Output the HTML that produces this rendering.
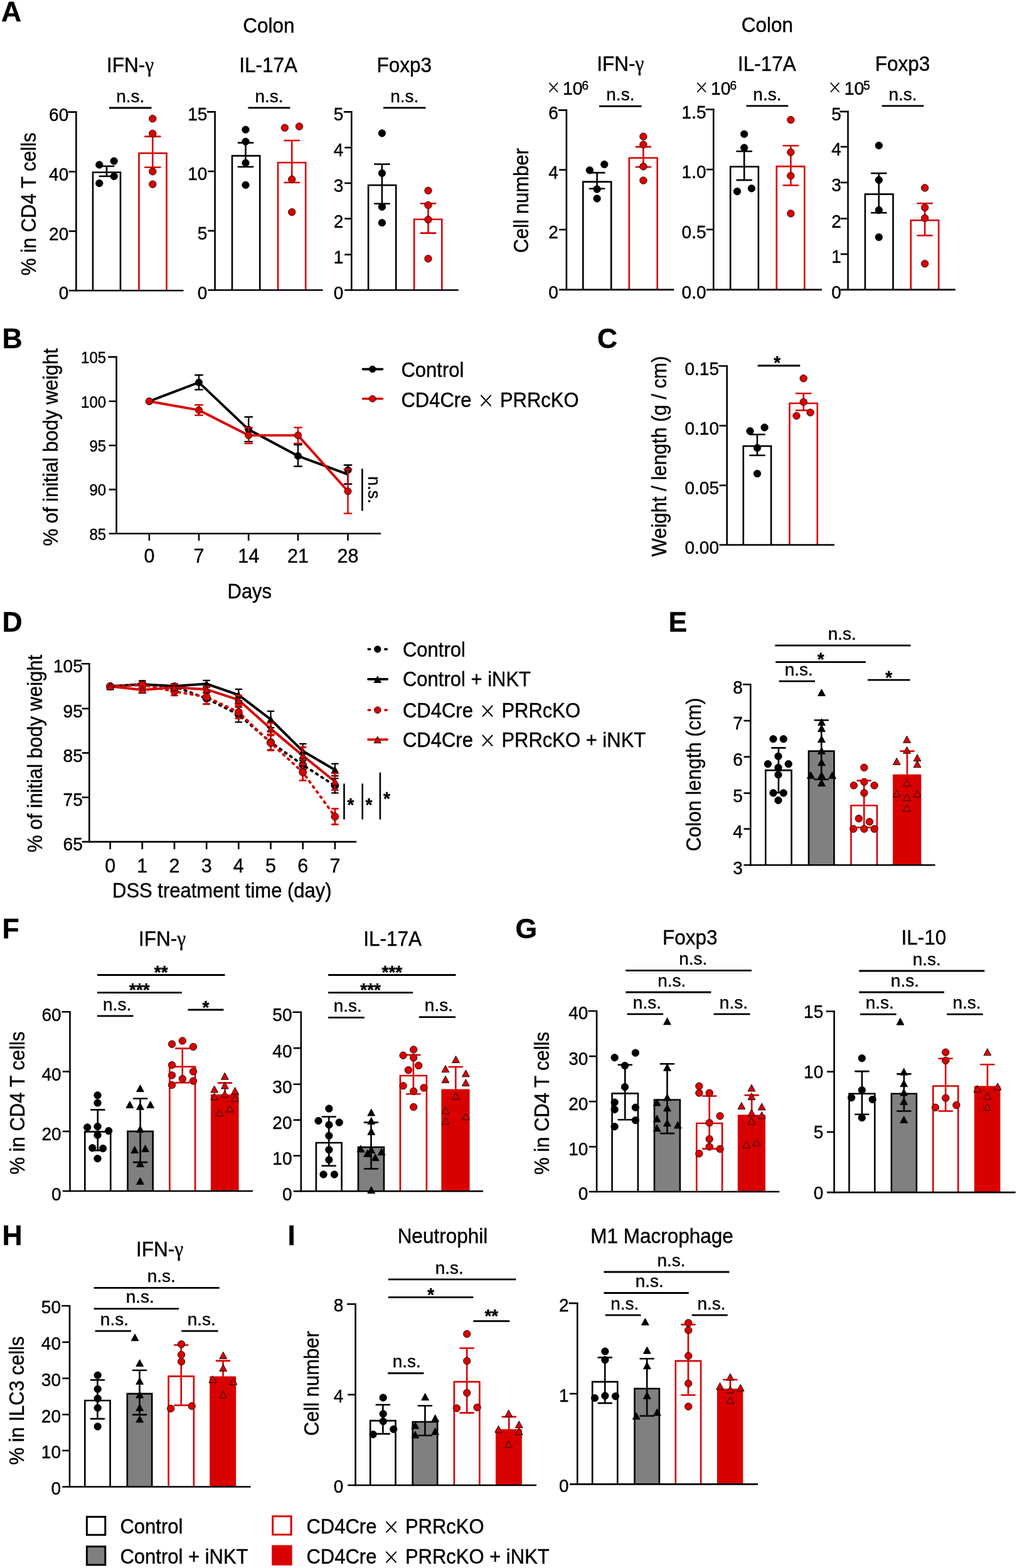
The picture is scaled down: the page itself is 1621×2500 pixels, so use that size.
<!DOCTYPE html><html><head><meta charset="utf-8"><style>html,body{margin:0;padding:0;background:#fff;width:1621px;height:2500px;overflow:hidden}svg{display:block}text{font-family:'Liberation Sans', Arial, sans-serif;fill:#000;stroke:#000;stroke-width:0.4px}</style></head><body>
<svg width="1621" height="2500" viewBox="0 0 1621 2500">
<rect width="1621" height="2500" fill="#fff"/>
<text font-size="44.5" text-anchor="start" font-weight="bold" transform="translate(2,34) scale(1,1.0)">A</text>
<text font-size="31.5" text-anchor="middle" transform="translate(428.5,51.5) scale(1,1.05)">Colon</text>
<text font-size="31.5" text-anchor="middle" transform="translate(1222.8,51) scale(1,1.05)">Colon</text>
<path d="M109.7,178.6H121.4V463.3" fill="none" stroke="#000" stroke-width="2.6" stroke-linejoin="miter" stroke-linecap="square"/>
<line x1="109.7" y1="273.7" x2="121.4" y2="273.7" stroke="#000" stroke-width="2.6"/>
<line x1="109.7" y1="368.6" x2="121.4" y2="368.6" stroke="#000" stroke-width="2.6"/>
<text font-size="28" text-anchor="end" transform="translate(109.2,192.6) scale(1,1.05)">60</text>
<text font-size="28" text-anchor="end" transform="translate(109.2,287.7) scale(1,1.05)">40</text>
<text font-size="28" text-anchor="end" transform="translate(109.2,382.6) scale(1,1.05)">20</text>
<text font-size="28" text-anchor="end" transform="translate(109.2,477.3) scale(1,1.05)">0</text>
<path d="M148,463.3V274.7H192V463.3" fill="#fff" stroke="#000" stroke-width="2.6"/>
<path d="M221.5,463.3V244.2H265.5V463.3" fill="#fff" stroke="#d90000" stroke-width="2.6"/>
<path d="M170,265V281M158.7,265H181.3M158.7,281H181.3" stroke="#000" stroke-width="2.6" fill="none" stroke-linecap="round"/>
<path d="M243.3,217.6V266.7M231.2,217.6H255.4M231.2,266.7H255.4" stroke="#d90000" stroke-width="2.6" fill="none" stroke-linecap="round"/>
<circle cx="158.3" cy="262.7" r="5.75" fill="#000" stroke="#000" stroke-width="0.8"/>
<circle cx="181.7" cy="256.8" r="5.75" fill="#000" stroke="#000" stroke-width="0.8"/>
<circle cx="181.7" cy="281" r="5.75" fill="#000" stroke="#000" stroke-width="0.8"/>
<circle cx="158.3" cy="292.2" r="5.75" fill="#000" stroke="#000" stroke-width="0.8"/>
<circle cx="243.3" cy="189.2" r="5.75" fill="#d90000" stroke="#000" stroke-width="0.8"/>
<circle cx="243.3" cy="212.9" r="5.75" fill="#d90000" stroke="#000" stroke-width="0.8"/>
<circle cx="243.3" cy="273.4" r="5.75" fill="#d90000" stroke="#000" stroke-width="0.8"/>
<circle cx="243.3" cy="293.8" r="5.75" fill="#d90000" stroke="#000" stroke-width="0.8"/>
<line x1="173.9" y1="172" x2="241.5" y2="172" stroke="#000" stroke-width="2.8"/>
<text font-size="28" text-anchor="middle" transform="translate(207.7,162.8) scale(1,1.0)">n.s.</text>
<text font-size="31.5" text-anchor="middle" transform="translate(207.5,115) scale(1,1.05)">IFN-<tspan font-family="Liberation Serif">γ</tspan></text>
<text font-size="31" text-anchor="middle" transform="translate(57,325.3) rotate(-90) scale(1,1.05)">% in CD4 T cells</text>
<path d="M331.3,178.4H342.6V462.5" fill="none" stroke="#000" stroke-width="2.6" stroke-linejoin="miter" stroke-linecap="square"/>
<line x1="331.3" y1="273.2" x2="342.6" y2="273.2" stroke="#000" stroke-width="2.6"/>
<line x1="331.3" y1="368" x2="342.6" y2="368" stroke="#000" stroke-width="2.6"/>
<text font-size="28" text-anchor="end" transform="translate(330.4,192.4) scale(1,1.05)">15</text>
<text font-size="28" text-anchor="end" transform="translate(330.4,287.2) scale(1,1.05)">10</text>
<text font-size="28" text-anchor="end" transform="translate(330.4,382) scale(1,1.05)">5</text>
<text font-size="28" text-anchor="end" transform="translate(330.4,476.5) scale(1,1.05)">0</text>
<path d="M370,462.5V248.4H414.2V462.5" fill="#fff" stroke="#000" stroke-width="2.6"/>
<path d="M443,462.5V259.2H487.2V462.5" fill="#fff" stroke="#d90000" stroke-width="2.6"/>
<path d="M391.5,227.6V266M379.8,227.6H403.2M379.8,266H403.2" stroke="#000" stroke-width="2.6" fill="none" stroke-linecap="round"/>
<path d="M465.2,224V291M453.5,224H476.9M453.5,291H476.9" stroke="#d90000" stroke-width="2.6" fill="none" stroke-linecap="round"/>
<circle cx="391.5" cy="206.7" r="5.75" fill="#000" stroke="#000" stroke-width="0.8"/>
<circle cx="391.5" cy="225.8" r="5.75" fill="#000" stroke="#000" stroke-width="0.8"/>
<circle cx="391.5" cy="259.8" r="5.75" fill="#000" stroke="#000" stroke-width="0.8"/>
<circle cx="391.5" cy="295" r="5.75" fill="#000" stroke="#000" stroke-width="0.8"/>
<circle cx="453.8" cy="203.7" r="5.75" fill="#d90000" stroke="#000" stroke-width="0.8"/>
<circle cx="477" cy="201.6" r="5.75" fill="#d90000" stroke="#000" stroke-width="0.8"/>
<circle cx="465.2" cy="286" r="5.75" fill="#d90000" stroke="#000" stroke-width="0.8"/>
<circle cx="465.2" cy="338.2" r="5.75" fill="#d90000" stroke="#000" stroke-width="0.8"/>
<line x1="395.4" y1="171.8" x2="462.5" y2="171.8" stroke="#000" stroke-width="2.8"/>
<text font-size="28" text-anchor="middle" transform="translate(428.95,162.6) scale(1,1.0)">n.s.</text>
<text font-size="31.5" text-anchor="middle" transform="translate(427.6,115) scale(1,1.05)">IL-17A</text>
<path d="M549.2,178.4H560.3V462.5" fill="none" stroke="#000" stroke-width="2.6" stroke-linejoin="miter" stroke-linecap="square"/>
<line x1="549.2" y1="235.3" x2="560.3" y2="235.3" stroke="#000" stroke-width="2.6"/>
<line x1="549.2" y1="292" x2="560.3" y2="292" stroke="#000" stroke-width="2.6"/>
<line x1="549.2" y1="348.6" x2="560.3" y2="348.6" stroke="#000" stroke-width="2.6"/>
<line x1="549.2" y1="405.9" x2="560.3" y2="405.9" stroke="#000" stroke-width="2.6"/>
<text font-size="28" text-anchor="end" transform="translate(547.4,192.4) scale(1,1.05)">5</text>
<text font-size="28" text-anchor="end" transform="translate(547.4,249.3) scale(1,1.05)">4</text>
<text font-size="28" text-anchor="end" transform="translate(547.4,306) scale(1,1.05)">3</text>
<text font-size="28" text-anchor="end" transform="translate(547.4,362.6) scale(1,1.05)">2</text>
<text font-size="28" text-anchor="end" transform="translate(547.4,419.9) scale(1,1.05)">1</text>
<text font-size="28" text-anchor="end" transform="translate(547.4,476.5) scale(1,1.05)">0</text>
<path d="M587.1,462.5V295.2H631.2V462.5" fill="#fff" stroke="#000" stroke-width="2.6"/>
<path d="M660.1,462.5V349.8H704.3V462.5" fill="#fff" stroke="#d90000" stroke-width="2.6"/>
<path d="M608.9,261.8V324.8M597.2,261.8H620.6M597.2,324.8H620.6" stroke="#000" stroke-width="2.6" fill="none" stroke-linecap="round"/>
<path d="M682.5,324.5V371.6M670.8,324.5H694.2M670.8,371.6H694.2" stroke="#d90000" stroke-width="2.6" fill="none" stroke-linecap="round"/>
<circle cx="608.9" cy="212.4" r="5.75" fill="#000" stroke="#000" stroke-width="0.8"/>
<circle cx="608.9" cy="276.2" r="5.75" fill="#000" stroke="#000" stroke-width="0.8"/>
<circle cx="608.9" cy="329.8" r="5.75" fill="#000" stroke="#000" stroke-width="0.8"/>
<circle cx="608.9" cy="355.2" r="5.75" fill="#000" stroke="#000" stroke-width="0.8"/>
<circle cx="682.5" cy="303.9" r="5.75" fill="#d90000" stroke="#000" stroke-width="0.8"/>
<circle cx="682.5" cy="327.1" r="5.75" fill="#d90000" stroke="#000" stroke-width="0.8"/>
<circle cx="682.5" cy="350.1" r="5.75" fill="#d90000" stroke="#000" stroke-width="0.8"/>
<circle cx="682.5" cy="412.4" r="5.75" fill="#d90000" stroke="#000" stroke-width="0.8"/>
<line x1="611" y1="171.8" x2="678.6" y2="171.8" stroke="#000" stroke-width="2.8"/>
<text font-size="28" text-anchor="middle" transform="translate(644.8,162.6) scale(1,1.0)">n.s.</text>
<text font-size="31.5" text-anchor="middle" transform="translate(644.2,115) scale(1,1.05)">Foxp3</text>
<path d="M891.2,175.6H902.9V461.9" fill="none" stroke="#000" stroke-width="2.6" stroke-linejoin="miter" stroke-linecap="square"/>
<line x1="891.2" y1="270.8" x2="902.9" y2="270.8" stroke="#000" stroke-width="2.6"/>
<line x1="891.2" y1="366.1" x2="902.9" y2="366.1" stroke="#000" stroke-width="2.6"/>
<text font-size="28" text-anchor="end" transform="translate(889.7,189.6) scale(1,1.05)">6</text>
<text font-size="28" text-anchor="end" transform="translate(889.7,284.8) scale(1,1.05)">4</text>
<text font-size="28" text-anchor="end" transform="translate(889.7,380.1) scale(1,1.05)">2</text>
<text font-size="28" text-anchor="end" transform="translate(889.7,475.9) scale(1,1.05)">0</text>
<path d="M929.3,461.9V289.9H974.2V461.9" fill="#fff" stroke="#000" stroke-width="2.6"/>
<path d="M1002.8,461.9V251.8H1047.7V461.9" fill="#fff" stroke="#d90000" stroke-width="2.6"/>
<path d="M951.6,275.4V300.8M939.9,275.4H963.3M939.9,300.8H963.3" stroke="#000" stroke-width="2.6" fill="none" stroke-linecap="round"/>
<path d="M1025.4,234.1V266.2M1013.7,234.1H1037.1M1013.7,266.2H1037.1" stroke="#d90000" stroke-width="2.6" fill="none" stroke-linecap="round"/>
<circle cx="939.9" cy="271.4" r="5.75" fill="#000" stroke="#000" stroke-width="0.8"/>
<circle cx="963.3" cy="262.1" r="5.75" fill="#000" stroke="#000" stroke-width="0.8"/>
<circle cx="951.6" cy="301.6" r="5.75" fill="#000" stroke="#000" stroke-width="0.8"/>
<circle cx="951.6" cy="316.5" r="5.75" fill="#000" stroke="#000" stroke-width="0.8"/>
<circle cx="1025.4" cy="217.7" r="5.75" fill="#d90000" stroke="#000" stroke-width="0.8"/>
<circle cx="1025.4" cy="230.5" r="5.75" fill="#d90000" stroke="#000" stroke-width="0.8"/>
<circle cx="1025.4" cy="265.4" r="5.75" fill="#d90000" stroke="#000" stroke-width="0.8"/>
<circle cx="1025.4" cy="287.7" r="5.75" fill="#d90000" stroke="#000" stroke-width="0.8"/>
<line x1="955.1" y1="169.3" x2="1022.6" y2="169.3" stroke="#000" stroke-width="2.8"/>
<text font-size="28" text-anchor="middle" transform="translate(988.85,160.1) scale(1,1.0)">n.s.</text>
<text font-size="31.5" text-anchor="middle" transform="translate(988.8,112.5) scale(1,1.05)">IFN-<tspan font-family="Liberation Serif">γ</tspan></text>
<text font-size="31" text-anchor="middle" transform="translate(842.2,319.8) rotate(-90) scale(1,1.05)">Cell number</text>
<text font-size="28" text-anchor="start" style="font-family:'DejaVu Sans';font-weight:200;stroke-width:0.3px" transform="translate(870.4,149.1) scale(1,1.05)">×</text>
<text font-size="28.5" text-anchor="start" transform="translate(897,150.5) scale(1,1.05)">10</text>
<text font-size="19" text-anchor="start" transform="translate(927.5,142.5) scale(1,1.05)">6</text>
<path d="M1126,174.5H1137.3V461.9" fill="none" stroke="#000" stroke-width="2.6" stroke-linejoin="miter" stroke-linecap="square"/>
<line x1="1126" y1="270.2" x2="1137.3" y2="270.2" stroke="#000" stroke-width="2.6"/>
<line x1="1126" y1="365.9" x2="1137.3" y2="365.9" stroke="#000" stroke-width="2.6"/>
<text font-size="28" text-anchor="end" transform="translate(1125.5,188.5) scale(1,1.05)">1.5</text>
<text font-size="28" text-anchor="end" transform="translate(1125.5,284.2) scale(1,1.05)">1.0</text>
<text font-size="28" text-anchor="end" transform="translate(1125.5,379.9) scale(1,1.05)">0.5</text>
<text font-size="28" text-anchor="end" transform="translate(1125.5,475.9) scale(1,1.05)">0.0</text>
<path d="M1164.2,461.9V265.8H1208.9V461.9" fill="#fff" stroke="#000" stroke-width="2.6"/>
<path d="M1237.8,461.9V265.4H1282.3V461.9" fill="#fff" stroke="#d90000" stroke-width="2.6"/>
<path d="M1186.2,241.2V287.1M1174.5,241.2H1197.9M1174.5,287.1H1197.9" stroke="#000" stroke-width="2.6" fill="none" stroke-linecap="round"/>
<path d="M1260.4,232.3V295.5M1248.7,232.3H1272.1M1248.7,295.5H1272.1" stroke="#d90000" stroke-width="2.6" fill="none" stroke-linecap="round"/>
<circle cx="1186.2" cy="213.7" r="5.75" fill="#000" stroke="#000" stroke-width="0.8"/>
<circle cx="1186.2" cy="235.6" r="5.75" fill="#000" stroke="#000" stroke-width="0.8"/>
<circle cx="1175" cy="305.2" r="5.75" fill="#000" stroke="#000" stroke-width="0.8"/>
<circle cx="1197.9" cy="300.4" r="5.75" fill="#000" stroke="#000" stroke-width="0.8"/>
<circle cx="1260.4" cy="191.1" r="5.75" fill="#d90000" stroke="#000" stroke-width="0.8"/>
<circle cx="1260.4" cy="242.8" r="5.75" fill="#d90000" stroke="#000" stroke-width="0.8"/>
<circle cx="1260.4" cy="280.3" r="5.75" fill="#d90000" stroke="#000" stroke-width="0.8"/>
<circle cx="1260.4" cy="340.4" r="5.75" fill="#d90000" stroke="#000" stroke-width="0.8"/>
<line x1="1189.5" y1="168.8" x2="1256.3" y2="168.8" stroke="#000" stroke-width="2.8"/>
<text font-size="28" text-anchor="middle" transform="translate(1222.9,159.6) scale(1,1.0)">n.s.</text>
<text font-size="31.5" text-anchor="middle" transform="translate(1222.4,112.5) scale(1,1.05)">IL-17A</text>
<text font-size="28" text-anchor="start" style="font-family:'DejaVu Sans';font-weight:200;stroke-width:0.3px" transform="translate(1106.4,149.1) scale(1,1.05)">×</text>
<text font-size="28.5" text-anchor="start" transform="translate(1133,150.5) scale(1,1.05)">10</text>
<text font-size="19" text-anchor="start" transform="translate(1163.5,142.5) scale(1,1.05)">6</text>
<path d="M1339.7,177.9H1351.6V461.9" fill="none" stroke="#000" stroke-width="2.6" stroke-linejoin="miter" stroke-linecap="square"/>
<line x1="1339.7" y1="234" x2="1351.6" y2="234" stroke="#000" stroke-width="2.6"/>
<line x1="1339.7" y1="291" x2="1351.6" y2="291" stroke="#000" stroke-width="2.6"/>
<line x1="1339.7" y1="348.5" x2="1351.6" y2="348.5" stroke="#000" stroke-width="2.6"/>
<line x1="1339.7" y1="405.2" x2="1351.6" y2="405.2" stroke="#000" stroke-width="2.6"/>
<text font-size="28" text-anchor="end" transform="translate(1340.7,191.9) scale(1,1.05)">5</text>
<text font-size="28" text-anchor="end" transform="translate(1340.7,248) scale(1,1.05)">4</text>
<text font-size="28" text-anchor="end" transform="translate(1340.7,305) scale(1,1.05)">3</text>
<text font-size="28" text-anchor="end" transform="translate(1340.7,362.5) scale(1,1.05)">2</text>
<text font-size="28" text-anchor="end" transform="translate(1340.7,419.2) scale(1,1.05)">1</text>
<text font-size="28" text-anchor="end" transform="translate(1340.7,475.9) scale(1,1.05)">0</text>
<path d="M1378.9,461.9V309.6H1423.5V461.9" fill="#fff" stroke="#000" stroke-width="2.6"/>
<path d="M1451.8,461.9V351.2H1496.1V461.9" fill="#fff" stroke="#d90000" stroke-width="2.6"/>
<path d="M1400.8,276.2V339.3M1389.1,276.2H1412.5M1389.1,339.3H1412.5" stroke="#000" stroke-width="2.6" fill="none" stroke-linecap="round"/>
<path d="M1474.1,324.2V375.5M1462.4,324.2H1485.8M1462.4,375.5H1485.8" stroke="#d90000" stroke-width="2.6" fill="none" stroke-linecap="round"/>
<circle cx="1400.8" cy="232" r="5.75" fill="#000" stroke="#000" stroke-width="0.8"/>
<circle cx="1400.8" cy="287" r="5.75" fill="#000" stroke="#000" stroke-width="0.8"/>
<circle cx="1400.8" cy="335" r="5.75" fill="#000" stroke="#000" stroke-width="0.8"/>
<circle cx="1400.8" cy="378.2" r="5.75" fill="#000" stroke="#000" stroke-width="0.8"/>
<circle cx="1474.1" cy="299.5" r="5.75" fill="#d90000" stroke="#000" stroke-width="0.8"/>
<circle cx="1474.1" cy="330.9" r="5.75" fill="#d90000" stroke="#000" stroke-width="0.8"/>
<circle cx="1474.1" cy="347.8" r="5.75" fill="#d90000" stroke="#000" stroke-width="0.8"/>
<circle cx="1474.1" cy="420.4" r="5.75" fill="#d90000" stroke="#000" stroke-width="0.8"/>
<line x1="1405.6" y1="168.8" x2="1472.4" y2="168.8" stroke="#000" stroke-width="2.8"/>
<text font-size="28" text-anchor="middle" transform="translate(1439,159.6) scale(1,1.0)">n.s.</text>
<text font-size="31.5" text-anchor="middle" transform="translate(1438.5,112.5) scale(1,1.05)">Foxp3</text>
<text font-size="28" text-anchor="start" style="font-family:'DejaVu Sans';font-weight:200;stroke-width:0.3px" transform="translate(1319.1,149.1) scale(1,1.05)">×</text>
<text font-size="28.5" text-anchor="start" transform="translate(1345.7,150.5) scale(1,1.05)">10</text>
<text font-size="19" text-anchor="start" transform="translate(1376.2,142.5) scale(1,1.05)">5</text>
<text font-size="44.5" text-anchor="start" font-weight="bold" transform="translate(3.5,555.2) scale(1,1.0)">B</text>
<path d="M173.6,569.1H185.6V850.8" fill="none" stroke="#000" stroke-width="2.6" stroke-linejoin="miter" stroke-linecap="square"/>
<line x1="173.6" y1="639.8" x2="185.6" y2="639.8" stroke="#000" stroke-width="2.6"/>
<line x1="173.6" y1="710.2" x2="185.6" y2="710.2" stroke="#000" stroke-width="2.6"/>
<line x1="173.6" y1="780.5" x2="185.6" y2="780.5" stroke="#000" stroke-width="2.6"/>
<text font-size="24" text-anchor="end" transform="translate(169.1,578.9) scale(1,1.05)">105</text>
<text font-size="24" text-anchor="end" transform="translate(169.1,649.6) scale(1,1.05)">100</text>
<text font-size="24" text-anchor="end" transform="translate(169.1,720) scale(1,1.05)">95</text>
<text font-size="24" text-anchor="end" transform="translate(169.1,790.3) scale(1,1.05)">90</text>
<text font-size="24" text-anchor="end" transform="translate(169.1,860.6) scale(1,1.05)">85</text>
<line x1="237.9" y1="850.8" x2="237.9" y2="862" stroke="#000" stroke-width="2.6"/>
<text font-size="30.5" text-anchor="middle" transform="translate(237.9,897.2) scale(1,1.05)">0</text>
<line x1="317" y1="850.8" x2="317" y2="862" stroke="#000" stroke-width="2.6"/>
<text font-size="30.5" text-anchor="middle" transform="translate(317,897.2) scale(1,1.05)">7</text>
<line x1="396.2" y1="850.8" x2="396.2" y2="862" stroke="#000" stroke-width="2.6"/>
<text font-size="30.5" text-anchor="middle" transform="translate(396.2,897.2) scale(1,1.05)">14</text>
<line x1="475" y1="850.8" x2="475" y2="862" stroke="#000" stroke-width="2.6"/>
<text font-size="30.5" text-anchor="middle" transform="translate(475,897.2) scale(1,1.05)">21</text>
<line x1="554.5" y1="850.8" x2="554.5" y2="862" stroke="#000" stroke-width="2.6"/>
<text font-size="30.5" text-anchor="middle" transform="translate(554.5,897.2) scale(1,1.05)">28</text>
<text font-size="31" text-anchor="middle" transform="translate(397.8,954.3) scale(1,1.05)">Days</text>
<text font-size="31" text-anchor="middle" transform="translate(92.3,713) rotate(-90) scale(1,1.05)">% of initial body weight</text>
<path d="M237.9,639.8 L317,609.7 L396.2,684.8 L475,727 L554.5,756.4" fill="none" stroke="#000" stroke-width="3.9" stroke-linejoin="miter"/>
<path d="M317,598V621.3M311.2,598H322.8M311.2,621.3H322.8" stroke="#000" stroke-width="2.4" fill="none" stroke-linecap="round"/>
<path d="M396.2,664.7V704.1M390.4,664.7H402M390.4,704.1H402" stroke="#000" stroke-width="2.4" fill="none" stroke-linecap="round"/>
<path d="M475,709V743.5M469.2,709H480.8M469.2,743.5H480.8" stroke="#000" stroke-width="2.4" fill="none" stroke-linecap="round"/>
<circle cx="237.9" cy="639.8" r="5.6" fill="#000" stroke="#000" stroke-width="0.8"/>
<circle cx="317" cy="609.7" r="5.6" fill="#000" stroke="#000" stroke-width="0.8"/>
<circle cx="396.2" cy="684.8" r="5.6" fill="#000" stroke="#000" stroke-width="0.8"/>
<circle cx="475" cy="727" r="5.6" fill="#000" stroke="#000" stroke-width="0.8"/>
<path d="M554.5,741.5V771.7M548.7,741.5H560.3M548.7,771.7H560.3" stroke="#000" stroke-width="2.4" fill="none" stroke-linecap="round"/>
<circle cx="554.6" cy="749.5" r="5.6" fill="#000" stroke="#000" stroke-width="0.8"/>
<path d="M237.9,639.8 L317,653.9 L396.2,694.1 L475,694.1 L554.5,783.3" fill="none" stroke="#d90000" stroke-width="3.9" stroke-linejoin="miter"/>
<path d="M317,645.5V662M311.2,645.5H322.8M311.2,662H322.8" stroke="#d90000" stroke-width="2.4" fill="none" stroke-linecap="round"/>
<path d="M396.2,681.6V707M390.4,681.6H402M390.4,707H402" stroke="#d90000" stroke-width="2.4" fill="none" stroke-linecap="round"/>
<path d="M475,681.6V707M469.2,681.6H480.8M469.2,707H480.8" stroke="#d90000" stroke-width="2.4" fill="none" stroke-linecap="round"/>
<path d="M554.5,748V818.6M548.7,748H560.3M548.7,818.6H560.3" stroke="#d90000" stroke-width="2.4" fill="none" stroke-linecap="round"/>
<circle cx="237.9" cy="639.8" r="5.6" fill="#d90000" stroke="#000" stroke-width="0.8"/>
<circle cx="317" cy="653.9" r="5.6" fill="#d90000" stroke="#000" stroke-width="0.8"/>
<circle cx="396.2" cy="694.1" r="5.6" fill="#d90000" stroke="#000" stroke-width="0.8"/>
<circle cx="475" cy="694.1" r="5.6" fill="#d90000" stroke="#000" stroke-width="0.8"/>
<circle cx="554.5" cy="783.3" r="5.6" fill="#d90000" stroke="#000" stroke-width="0.8"/>
<line x1="577.4" y1="747.3" x2="577.4" y2="814.5" stroke="#000" stroke-width="2.6"/>
<text font-size="27" text-anchor="middle" transform="translate(586.5,781) rotate(90) scale(1,1.05)">n.s.</text>
<line x1="578.5" y1="588.6" x2="609.5" y2="588.6" stroke="#000" stroke-width="3.6" stroke-linecap="round"/>
<circle cx="593.7" cy="588.6" r="5.3" fill="#000" stroke="#000" stroke-width="0.8"/>
<text font-size="31" text-anchor="start" transform="translate(639.5,600.5) scale(1,1.05)">Control</text>
<line x1="578.5" y1="635.7" x2="609.5" y2="635.7" stroke="#d90000" stroke-width="3.6" stroke-linecap="round"/>
<circle cx="593.7" cy="635.7" r="5.3" fill="#d90000" stroke="#000" stroke-width="0.8"/>
<text font-size="31" text-anchor="start" transform="translate(639.5,649) scale(1,1.05)">CD4Cre</text>
<text font-size="33" text-anchor="start" style="font-family:'DejaVu Sans';font-weight:200;stroke-width:0.3px" transform="translate(760.8,650) scale(1,1.05)">×</text>
<text font-size="31" text-anchor="start" transform="translate(796.9,649) scale(1,1.05)">PRRcKO</text>
<text font-size="44.5" text-anchor="start" font-weight="bold" transform="translate(952,555.3) scale(1,1.0)">C</text>
<path d="M1146.5,583.5H1158.7V868.8" fill="none" stroke="#000" stroke-width="2.6" stroke-linejoin="miter" stroke-linecap="square"/>
<line x1="1146.5" y1="678.7" x2="1158.7" y2="678.7" stroke="#000" stroke-width="2.6"/>
<line x1="1146.5" y1="773.9" x2="1158.7" y2="773.9" stroke="#000" stroke-width="2.6"/>
<text font-size="28" text-anchor="end" transform="translate(1146,597.5) scale(1,1.05)">0.15</text>
<text font-size="28" text-anchor="end" transform="translate(1146,692.7) scale(1,1.05)">0.10</text>
<text font-size="28" text-anchor="end" transform="translate(1146,787.9) scale(1,1.05)">0.05</text>
<text font-size="28" text-anchor="end" transform="translate(1146,882.8) scale(1,1.05)">0.00</text>
<path d="M1184.8,868.8V711.3H1229.1V868.8" fill="#fff" stroke="#000" stroke-width="2.6"/>
<path d="M1258.5,868.8V643H1302.8V868.8" fill="#fff" stroke="#d90000" stroke-width="2.6"/>
<path d="M1207,692.7V726M1195.3,692.7H1218.7M1195.3,726H1218.7" stroke="#000" stroke-width="2.6" fill="none" stroke-linecap="round"/>
<path d="M1280.7,627.3V654.2M1269,627.3H1292.4M1269,654.2H1292.4" stroke="#d90000" stroke-width="2.6" fill="none" stroke-linecap="round"/>
<circle cx="1195.5" cy="687.3" r="5.75" fill="#000" stroke="#000" stroke-width="0.8"/>
<circle cx="1218.6" cy="681.5" r="5.75" fill="#000" stroke="#000" stroke-width="0.8"/>
<circle cx="1207" cy="714.1" r="5.75" fill="#000" stroke="#000" stroke-width="0.8"/>
<circle cx="1207" cy="755.2" r="5.75" fill="#000" stroke="#000" stroke-width="0.8"/>
<circle cx="1280.7" cy="603.3" r="5.75" fill="#d90000" stroke="#000" stroke-width="0.8"/>
<circle cx="1280.7" cy="640.9" r="5.75" fill="#d90000" stroke="#000" stroke-width="0.8"/>
<circle cx="1269.5" cy="663" r="5.75" fill="#d90000" stroke="#000" stroke-width="0.8"/>
<circle cx="1291.6" cy="657.7" r="5.75" fill="#d90000" stroke="#000" stroke-width="0.8"/>
<line x1="1207.7" y1="583" x2="1275.3" y2="583" stroke="#000" stroke-width="2.8"/>
<text font-size="28" text-anchor="middle" font-weight="bold" transform="translate(1238.8,588) scale(1,1.05)">*</text>
<text font-size="31" text-anchor="middle" transform="translate(1061.8,727.6) rotate(-90) scale(1,1.05)">Weight / length (g / cm)</text>
<text font-size="44.5" text-anchor="start" font-weight="bold" transform="translate(3.5,1007.4) scale(1,1.0)">D</text>
<path d="M130.7,1058.3H142.3V1342.1" fill="none" stroke="#000" stroke-width="2.6" stroke-linejoin="miter" stroke-linecap="square"/>
<line x1="130.7" y1="1129.8" x2="142.3" y2="1129.8" stroke="#000" stroke-width="2.6"/>
<line x1="130.7" y1="1200.5" x2="142.3" y2="1200.5" stroke="#000" stroke-width="2.6"/>
<line x1="130.7" y1="1271.3" x2="142.3" y2="1271.3" stroke="#000" stroke-width="2.6"/>
<text font-size="28" text-anchor="end" transform="translate(131.7,1072.3) scale(1,1.05)">105</text>
<text font-size="28" text-anchor="end" transform="translate(131.7,1143.8) scale(1,1.05)">95</text>
<text font-size="28" text-anchor="end" transform="translate(131.7,1214.5) scale(1,1.05)">85</text>
<text font-size="28" text-anchor="end" transform="translate(131.7,1285.3) scale(1,1.05)">75</text>
<text font-size="28" text-anchor="end" transform="translate(131.7,1356.1) scale(1,1.05)">65</text>
<line x1="175.7" y1="1342.1" x2="175.7" y2="1354" stroke="#000" stroke-width="2.6"/>
<text font-size="30.5" text-anchor="middle" transform="translate(175.7,1390.5) scale(1,1.05)">0</text>
<line x1="226.8" y1="1342.1" x2="226.8" y2="1354" stroke="#000" stroke-width="2.6"/>
<text font-size="30.5" text-anchor="middle" transform="translate(226.8,1390.5) scale(1,1.05)">1</text>
<line x1="278" y1="1342.1" x2="278" y2="1354" stroke="#000" stroke-width="2.6"/>
<text font-size="30.5" text-anchor="middle" transform="translate(278,1390.5) scale(1,1.05)">2</text>
<line x1="329.2" y1="1342.1" x2="329.2" y2="1354" stroke="#000" stroke-width="2.6"/>
<text font-size="30.5" text-anchor="middle" transform="translate(329.2,1390.5) scale(1,1.05)">3</text>
<line x1="380.3" y1="1342.1" x2="380.3" y2="1354" stroke="#000" stroke-width="2.6"/>
<text font-size="30.5" text-anchor="middle" transform="translate(380.3,1390.5) scale(1,1.05)">4</text>
<line x1="431.5" y1="1342.1" x2="431.5" y2="1354" stroke="#000" stroke-width="2.6"/>
<text font-size="30.5" text-anchor="middle" transform="translate(431.5,1390.5) scale(1,1.05)">5</text>
<line x1="482.7" y1="1342.1" x2="482.7" y2="1354" stroke="#000" stroke-width="2.6"/>
<text font-size="30.5" text-anchor="middle" transform="translate(482.7,1390.5) scale(1,1.05)">6</text>
<line x1="533.9" y1="1342.1" x2="533.9" y2="1354" stroke="#000" stroke-width="2.6"/>
<text font-size="30.5" text-anchor="middle" transform="translate(533.9,1390.5) scale(1,1.05)">7</text>
<text font-size="31" text-anchor="middle" transform="translate(353.8,1431) scale(1,1.05)">DSS treatment time (day)</text>
<text font-size="31" text-anchor="middle" transform="translate(67.1,1201.5) rotate(-90) scale(1,1.05)">% of initial body weight</text>
<path d="M175.7,1094.3 L226.8,1092 L278,1094.5 L329.2,1113.7 L380.3,1139.3 L431.5,1183.5 L482.7,1219.6 L533.9,1252.7" fill="none" stroke="#000" stroke-width="4.0" stroke-dasharray="2.4 7.6" stroke-linecap="round" stroke-linejoin="round"/>
<path d="M175.7,1094.3 L226.8,1091 L278,1094 L329.2,1090.3 L380.3,1108.1 L431.5,1147 L482.7,1197.6 L533.9,1227.4" fill="none" stroke="#000" stroke-width="4.0" stroke-linejoin="miter"/>
<path d="M175.7,1094.3 L226.8,1091.9 L278,1102.4 L329.2,1111.3 L380.3,1135.4 L431.5,1184.4 L482.7,1231.3 L533.9,1301.9" fill="none" stroke="#d90000" stroke-width="4.0" stroke-dasharray="2.4 7.6" stroke-linecap="round" stroke-linejoin="round"/>
<path d="M175.7,1094.3 L226.8,1100 L278,1095.9 L329.2,1099.2 L380.3,1115.9 L431.5,1161.9 L482.7,1204.7 L533.9,1246.2" fill="none" stroke="#d90000" stroke-width="4.0" stroke-linejoin="miter"/>
<path d="M226.8,1088V1096M221.9,1088H231.7M221.9,1096H231.7" stroke="#000" stroke-width="2.2" fill="none" stroke-linecap="round"/>
<path d="M278,1091.5V1097.5M273.1,1091.5H282.9M273.1,1097.5H282.9" stroke="#000" stroke-width="2.2" fill="none" stroke-linecap="round"/>
<path d="M329.2,1104.7V1122.7M324.3,1104.7H334.1M324.3,1122.7H334.1" stroke="#000" stroke-width="2.2" fill="none" stroke-linecap="round"/>
<path d="M380.3,1127.3V1151.3M375.4,1127.3H385.2M375.4,1151.3H385.2" stroke="#000" stroke-width="2.2" fill="none" stroke-linecap="round"/>
<path d="M431.5,1171.5V1195.5M426.6,1171.5H436.4M426.6,1195.5H436.4" stroke="#000" stroke-width="2.2" fill="none" stroke-linecap="round"/>
<path d="M482.7,1212.6V1226.6M477.8,1212.6H487.6M477.8,1226.6H487.6" stroke="#000" stroke-width="2.2" fill="none" stroke-linecap="round"/>
<path d="M533.9,1241.1V1264.3M529,1241.1H538.8M529,1264.3H538.8" stroke="#000" stroke-width="2.2" fill="none" stroke-linecap="round"/>
<circle cx="175.7" cy="1094.3" r="6" fill="#000" stroke="#000" stroke-width="0.8"/>
<circle cx="226.8" cy="1092" r="6" fill="#000" stroke="#000" stroke-width="0.8"/>
<circle cx="278" cy="1094.5" r="6" fill="#000" stroke="#000" stroke-width="0.8"/>
<circle cx="329.2" cy="1113.7" r="6" fill="#000" stroke="#000" stroke-width="0.8"/>
<circle cx="380.3" cy="1139.3" r="6" fill="#000" stroke="#000" stroke-width="0.8"/>
<circle cx="431.5" cy="1183.5" r="6" fill="#000" stroke="#000" stroke-width="0.8"/>
<circle cx="482.7" cy="1219.6" r="6" fill="#000" stroke="#000" stroke-width="0.8"/>
<circle cx="533.9" cy="1252.7" r="6" fill="#000" stroke="#000" stroke-width="0.8"/>
<path d="M226.8,1085.4V1096.6M221.9,1085.4H231.7M221.9,1096.6H231.7" stroke="#000" stroke-width="2.2" fill="none" stroke-linecap="round"/>
<path d="M278,1090V1098M273.1,1090H282.9M273.1,1098H282.9" stroke="#000" stroke-width="2.2" fill="none" stroke-linecap="round"/>
<path d="M329.2,1084.9V1095.7M324.3,1084.9H334.1M324.3,1095.7H334.1" stroke="#000" stroke-width="2.2" fill="none" stroke-linecap="round"/>
<path d="M380.3,1098.8V1117.4M375.4,1098.8H385.2M375.4,1117.4H385.2" stroke="#000" stroke-width="2.2" fill="none" stroke-linecap="round"/>
<path d="M431.5,1133.8V1160.2M426.6,1133.8H436.4M426.6,1160.2H436.4" stroke="#000" stroke-width="2.2" fill="none" stroke-linecap="round"/>
<path d="M482.7,1185.9V1209.3M477.8,1185.9H487.6M477.8,1209.3H487.6" stroke="#000" stroke-width="2.2" fill="none" stroke-linecap="round"/>
<path d="M533.9,1217.7V1237.1M529,1217.7H538.8M529,1237.1H538.8" stroke="#000" stroke-width="2.2" fill="none" stroke-linecap="round"/>
<path d="M175.7,1088.86L181.55,1099.74L169.85,1099.74Z" fill="#000" stroke="#000" stroke-width="0.9" stroke-linejoin="miter"/>
<path d="M226.8,1085.56L232.65,1096.44L220.95,1096.44Z" fill="#000" stroke="#000" stroke-width="0.9" stroke-linejoin="miter"/>
<path d="M278,1088.56L283.85,1099.44L272.15,1099.44Z" fill="#000" stroke="#000" stroke-width="0.9" stroke-linejoin="miter"/>
<path d="M329.2,1084.86L335.05,1095.74L323.35,1095.74Z" fill="#000" stroke="#000" stroke-width="0.9" stroke-linejoin="miter"/>
<path d="M380.3,1102.66L386.15,1113.54L374.45,1113.54Z" fill="#000" stroke="#000" stroke-width="0.9" stroke-linejoin="miter"/>
<path d="M431.5,1141.56L437.35,1152.44L425.65,1152.44Z" fill="#000" stroke="#000" stroke-width="0.9" stroke-linejoin="miter"/>
<path d="M482.7,1192.16L488.55,1203.04L476.85,1203.04Z" fill="#000" stroke="#000" stroke-width="0.9" stroke-linejoin="miter"/>
<path d="M533.9,1221.96L539.75,1232.84L528.05,1232.84Z" fill="#000" stroke="#000" stroke-width="0.9" stroke-linejoin="miter"/>
<path d="M226.8,1088.9V1094.9M222.2,1088.9H231.4M222.2,1094.9H231.4" stroke="#d90000" stroke-width="2.8" fill="none" stroke-linecap="round"/>
<path d="M278,1095.9V1108.9M273.4,1095.9H282.6M273.4,1108.9H282.6" stroke="#d90000" stroke-width="2.8" fill="none" stroke-linecap="round"/>
<path d="M329.2,1100.3V1122.3M324.6,1100.3H333.8M324.6,1122.3H333.8" stroke="#d90000" stroke-width="2.8" fill="none" stroke-linecap="round"/>
<path d="M380.3,1125.4V1145.4M375.7,1125.4H384.9M375.7,1145.4H384.9" stroke="#d90000" stroke-width="2.8" fill="none" stroke-linecap="round"/>
<path d="M431.5,1172.4V1196.4M426.9,1172.4H436.1M426.9,1196.4H436.1" stroke="#d90000" stroke-width="2.8" fill="none" stroke-linecap="round"/>
<path d="M482.7,1218.3V1244.3M478.1,1218.3H487.3M478.1,1244.3H487.3" stroke="#d90000" stroke-width="2.8" fill="none" stroke-linecap="round"/>
<path d="M533.9,1289.3V1314.5M529.3,1289.3H538.5M529.3,1314.5H538.5" stroke="#d90000" stroke-width="2.8" fill="none" stroke-linecap="round"/>
<circle cx="175.7" cy="1094.3" r="6" fill="#d90000" stroke="#000" stroke-width="0.8"/>
<circle cx="226.8" cy="1091.9" r="6" fill="#d90000" stroke="#000" stroke-width="0.8"/>
<circle cx="278" cy="1102.4" r="6" fill="#d90000" stroke="#000" stroke-width="0.8"/>
<circle cx="329.2" cy="1111.3" r="6" fill="#d90000" stroke="#000" stroke-width="0.8"/>
<circle cx="380.3" cy="1135.4" r="6" fill="#d90000" stroke="#000" stroke-width="0.8"/>
<circle cx="431.5" cy="1184.4" r="6" fill="#d90000" stroke="#000" stroke-width="0.8"/>
<circle cx="482.7" cy="1231.3" r="6" fill="#d90000" stroke="#000" stroke-width="0.8"/>
<circle cx="533.9" cy="1301.9" r="6" fill="#d90000" stroke="#000" stroke-width="0.8"/>
<path d="M226.8,1096V1104M222.2,1096H231.4M222.2,1104H231.4" stroke="#d90000" stroke-width="2.8" fill="none" stroke-linecap="round"/>
<path d="M278,1090.9V1100.9M273.4,1090.9H282.6M273.4,1100.9H282.6" stroke="#d90000" stroke-width="2.8" fill="none" stroke-linecap="round"/>
<path d="M329.2,1094.6V1103.8M324.6,1094.6H333.8M324.6,1103.8H333.8" stroke="#d90000" stroke-width="2.8" fill="none" stroke-linecap="round"/>
<path d="M380.3,1108.9V1122.9M375.7,1108.9H384.9M375.7,1122.9H384.9" stroke="#d90000" stroke-width="2.8" fill="none" stroke-linecap="round"/>
<path d="M431.5,1152.9V1170.9M426.9,1152.9H436.1M426.9,1170.9H436.1" stroke="#d90000" stroke-width="2.8" fill="none" stroke-linecap="round"/>
<path d="M482.7,1191.4V1218M478.1,1191.4H487.3M478.1,1218H487.3" stroke="#d90000" stroke-width="2.8" fill="none" stroke-linecap="round"/>
<path d="M533.9,1232.8V1259.6M529.3,1232.8H538.5M529.3,1259.6H538.5" stroke="#d90000" stroke-width="2.8" fill="none" stroke-linecap="round"/>
<path d="M175.7,1088.86L181.55,1099.74L169.85,1099.74Z" fill="#d90000" stroke="#000" stroke-width="0.9" stroke-linejoin="miter"/>
<path d="M226.8,1094.56L232.65,1105.44L220.95,1105.44Z" fill="#d90000" stroke="#000" stroke-width="0.9" stroke-linejoin="miter"/>
<path d="M278,1090.46L283.85,1101.34L272.15,1101.34Z" fill="#d90000" stroke="#000" stroke-width="0.9" stroke-linejoin="miter"/>
<path d="M329.2,1093.76L335.05,1104.64L323.35,1104.64Z" fill="#d90000" stroke="#000" stroke-width="0.9" stroke-linejoin="miter"/>
<path d="M380.3,1110.46L386.15,1121.34L374.45,1121.34Z" fill="#d90000" stroke="#000" stroke-width="0.9" stroke-linejoin="miter"/>
<path d="M431.5,1156.46L437.35,1167.34L425.65,1167.34Z" fill="#d90000" stroke="#000" stroke-width="0.9" stroke-linejoin="miter"/>
<path d="M482.7,1199.26L488.55,1210.14L476.85,1210.14Z" fill="#d90000" stroke="#000" stroke-width="0.9" stroke-linejoin="miter"/>
<path d="M533.9,1240.76L539.75,1251.64L528.05,1251.64Z" fill="#d90000" stroke="#000" stroke-width="0.9" stroke-linejoin="miter"/>
<line x1="548.5" y1="1249.4" x2="548.5" y2="1306.5" stroke="#000" stroke-width="2.6"/>
<text font-size="28" text-anchor="middle" font-weight="bold" transform="translate(559,1292.6) scale(1,1.05)">*</text>
<line x1="577.7" y1="1249.4" x2="577.7" y2="1306.5" stroke="#000" stroke-width="2.6"/>
<text font-size="28" text-anchor="middle" font-weight="bold" transform="translate(588,1292.6) scale(1,1.05)">*</text>
<line x1="605.9" y1="1231.7" x2="605.9" y2="1306.5" stroke="#000" stroke-width="2.6"/>
<text font-size="28" text-anchor="middle" font-weight="bold" transform="translate(616.5,1283.4) scale(1,1.05)">*</text>
<path d="M587.2,1035.1h2.6M613.8,1035.1h2.6" stroke="#000" stroke-width="3.6" stroke-linecap="round"/>
<circle cx="601.8" cy="1035.1" r="5.3" fill="#000" stroke="#000" stroke-width="0.8"/>
<line x1="586.9" y1="1082.9" x2="617.3" y2="1082.9" stroke="#000" stroke-width="3.6" stroke-linecap="round"/>
<path d="M601.8,1077.9L607.5,1088.5L596.1,1088.5Z" fill="#000" stroke="#000" stroke-width="0.9" stroke-linejoin="miter"/>
<path d="M587.2,1132.1h2.6M613.8,1132.1h2.6" stroke="#d90000" stroke-width="3.6" stroke-linecap="round"/>
<circle cx="601.8" cy="1132.1" r="5.3" fill="#d90000" stroke="#000" stroke-width="0.8"/>
<line x1="586.9" y1="1179.1" x2="617.3" y2="1179.1" stroke="#d90000" stroke-width="3.6" stroke-linecap="round"/>
<path d="M601.8,1174.1L607.5,1184.7L596.1,1184.7Z" fill="#d90000" stroke="#000" stroke-width="0.9" stroke-linejoin="miter"/>
<text font-size="31" text-anchor="start" transform="translate(642,1046.5) scale(1,1.05)">Control</text>
<text font-size="31" text-anchor="start" transform="translate(642,1094.3) scale(1,1.05)">Control + iNKT</text>
<text font-size="31" text-anchor="start" transform="translate(642,1143.5) scale(1,1.05)">CD4Cre</text>
<text font-size="33" text-anchor="start" style="font-family:'DejaVu Sans';font-weight:200;stroke-width:0.3px" transform="translate(763.3,1144.5) scale(1,1.05)">×</text>
<text font-size="31" text-anchor="start" transform="translate(799.4,1143.5) scale(1,1.05)">PRRcKO</text>
<text font-size="31" text-anchor="start" transform="translate(642,1190.5) scale(1,1.05)">CD4Cre</text>
<text font-size="33" text-anchor="start" style="font-family:'DejaVu Sans';font-weight:200;stroke-width:0.3px" transform="translate(763.3,1191.5) scale(1,1.05)">×</text>
<text font-size="31" text-anchor="start" transform="translate(799.4,1190.5) scale(1,1.05)">PRRcKO + iNKT</text>
<text font-size="44.5" text-anchor="start" font-weight="bold" transform="translate(1065.5,1007.4) scale(1,1.0)">E</text>
<path d="M1185.5,1091.2H1196.3V1379.2" fill="none" stroke="#000" stroke-width="2.6" stroke-linejoin="miter" stroke-linecap="square"/>
<line x1="1185.5" y1="1149.1" x2="1196.3" y2="1149.1" stroke="#000" stroke-width="2.6"/>
<line x1="1185.5" y1="1206.7" x2="1196.3" y2="1206.7" stroke="#000" stroke-width="2.6"/>
<line x1="1185.5" y1="1264.6" x2="1196.3" y2="1264.6" stroke="#000" stroke-width="2.6"/>
<line x1="1185.5" y1="1321.6" x2="1196.3" y2="1321.6" stroke="#000" stroke-width="2.6"/>
<text font-size="28" text-anchor="end" transform="translate(1183.8,1105.5) scale(1,1.05)">8</text>
<text font-size="28" text-anchor="end" transform="translate(1183.8,1163.4) scale(1,1.05)">7</text>
<text font-size="28" text-anchor="end" transform="translate(1183.8,1221) scale(1,1.05)">6</text>
<text font-size="28" text-anchor="end" transform="translate(1183.8,1278.9) scale(1,1.05)">5</text>
<text font-size="28" text-anchor="end" transform="translate(1183.8,1335.9) scale(1,1.05)">4</text>
<text font-size="28" text-anchor="end" transform="translate(1183.8,1393.5) scale(1,1.05)">3</text>
<path d="M1220.3,1379.2V1228.1H1261.6V1379.2" fill="#fff" stroke="#000" stroke-width="2.6"/>
<path d="M1289,1379.2V1197.6H1329.5V1379.2" fill="#808080" stroke="#000" stroke-width="2.6"/>
<path d="M1356.5,1379.2V1284.3H1397.9V1379.2" fill="#fff" stroke="#d90000" stroke-width="2.6"/>
<rect x="1423" y="1234.7" width="45.3" height="144.5" fill="#d90000"/>
<path d="M1240.95,1192.4V1263.7M1230.35,1192.4H1251.55M1230.35,1263.7H1251.55" stroke="#000" stroke-width="2.6" fill="none" stroke-linecap="round"/>
<path d="M1309.25,1148.3V1242.8M1298.65,1148.3H1319.85M1298.65,1242.8H1319.85" stroke="#000" stroke-width="2.6" fill="none" stroke-linecap="round"/>
<path d="M1377.2,1244.6V1319.3M1366.6,1244.6H1387.8M1366.6,1319.3H1387.8" stroke="#d90000" stroke-width="2.6" fill="none" stroke-linecap="round"/>
<path d="M1445.95,1197.6V1271.8M1435.35,1197.6H1456.55M1435.35,1271.8H1456.55" stroke="#d90000" stroke-width="2.6" fill="none" stroke-linecap="round"/>
<circle cx="1232.51" cy="1178.2" r="5.75" fill="#000" stroke="#000" stroke-width="0.8"/>
<circle cx="1248.77" cy="1178.2" r="5.75" fill="#000" stroke="#000" stroke-width="0.8"/>
<circle cx="1240.5" cy="1205.85" r="5.75" fill="#000" stroke="#000" stroke-width="0.8"/>
<circle cx="1223.96" cy="1218.12" r="5.75" fill="#000" stroke="#000" stroke-width="0.8"/>
<circle cx="1256.75" cy="1218.12" r="5.75" fill="#000" stroke="#000" stroke-width="0.8"/>
<circle cx="1240.5" cy="1223.82" r="5.75" fill="#000" stroke="#000" stroke-width="0.8"/>
<circle cx="1240.5" cy="1235.22" r="5.75" fill="#000" stroke="#000" stroke-width="0.8"/>
<circle cx="1232.51" cy="1264.31" r="5.75" fill="#000" stroke="#000" stroke-width="0.8"/>
<circle cx="1248.77" cy="1264.31" r="5.75" fill="#000" stroke="#000" stroke-width="0.8"/>
<circle cx="1240.5" cy="1276" r="5.75" fill="#000" stroke="#000" stroke-width="0.8"/>
<path d="M1309.5,1098.57L1315.4,1109.54L1303.6,1109.54Z" fill="#000" stroke="#000" stroke-width="0.9" stroke-linejoin="miter"/>
<path d="M1309.5,1145.62L1315.4,1156.59L1303.6,1156.59Z" fill="#000" stroke="#000" stroke-width="0.9" stroke-linejoin="miter"/>
<path d="M1309.5,1155.6L1315.4,1166.57L1303.6,1166.57Z" fill="#000" stroke="#000" stroke-width="0.9" stroke-linejoin="miter"/>
<path d="M1309.5,1172.71L1315.4,1183.68L1303.6,1183.68Z" fill="#000" stroke="#000" stroke-width="0.9" stroke-linejoin="miter"/>
<path d="M1309.5,1191.24L1315.4,1202.22L1303.6,1202.22Z" fill="#000" stroke="#000" stroke-width="0.9" stroke-linejoin="miter"/>
<path d="M1309.5,1209.78L1315.4,1220.75L1303.6,1220.75Z" fill="#000" stroke="#000" stroke-width="0.9" stroke-linejoin="miter"/>
<path d="M1292.39,1230.31L1298.29,1241.28L1286.49,1241.28Z" fill="#000" stroke="#000" stroke-width="0.9" stroke-linejoin="miter"/>
<path d="M1309.5,1230.31L1315.4,1241.28L1303.6,1241.28Z" fill="#000" stroke="#000" stroke-width="0.9" stroke-linejoin="miter"/>
<path d="M1326.61,1230.31L1332.51,1241.28L1320.71,1241.28Z" fill="#000" stroke="#000" stroke-width="0.9" stroke-linejoin="miter"/>
<path d="M1309.5,1242.57L1315.4,1253.54L1303.6,1253.54Z" fill="#000" stroke="#000" stroke-width="0.9" stroke-linejoin="miter"/>
<circle cx="1377.37" cy="1223.82" r="5.75" fill="#d90000" stroke="#000" stroke-width="0.8"/>
<circle cx="1377.37" cy="1246.63" r="5.75" fill="#d90000" stroke="#000" stroke-width="0.8"/>
<circle cx="1360.83" cy="1252.33" r="5.75" fill="#d90000" stroke="#000" stroke-width="0.8"/>
<circle cx="1393.62" cy="1252.33" r="5.75" fill="#d90000" stroke="#000" stroke-width="0.8"/>
<circle cx="1377.37" cy="1264.31" r="5.75" fill="#d90000" stroke="#000" stroke-width="0.8"/>
<circle cx="1368.81" cy="1305.08" r="5.75" fill="#d90000" stroke="#000" stroke-width="0.8"/>
<circle cx="1385.92" cy="1310.22" r="5.75" fill="#d90000" stroke="#000" stroke-width="0.8"/>
<circle cx="1360.26" cy="1321.62" r="5.75" fill="#d90000" stroke="#000" stroke-width="0.8"/>
<circle cx="1377.37" cy="1321.62" r="5.75" fill="#d90000" stroke="#000" stroke-width="0.8"/>
<circle cx="1393.62" cy="1321.62" r="5.75" fill="#d90000" stroke="#000" stroke-width="0.8"/>
<path d="M1445.51,1173.28L1451.41,1184.25L1439.61,1184.25Z" fill="#d90000" stroke="#000" stroke-width="0.9" stroke-linejoin="miter"/>
<path d="M1445.51,1190.39L1451.41,1201.36L1439.61,1201.36Z" fill="#d90000" stroke="#000" stroke-width="0.9" stroke-linejoin="miter"/>
<path d="M1429.26,1208.35L1435.16,1219.33L1423.36,1219.33Z" fill="#d90000" stroke="#000" stroke-width="0.9" stroke-linejoin="miter"/>
<path d="M1462.05,1202.65L1467.95,1213.62L1456.15,1213.62Z" fill="#d90000" stroke="#000" stroke-width="0.9" stroke-linejoin="miter"/>
<path d="M1462.05,1212.63L1467.95,1223.6L1456.15,1223.6Z" fill="#d90000" stroke="#000" stroke-width="0.9" stroke-linejoin="miter"/>
<path d="M1445.51,1242.57L1451.41,1253.54L1439.61,1253.54Z" fill="#d90000" stroke="#000" stroke-width="0.9" stroke-linejoin="miter"/>
<path d="M1429.26,1259.68L1435.16,1270.65L1423.36,1270.65Z" fill="#d90000" stroke="#000" stroke-width="0.9" stroke-linejoin="miter"/>
<path d="M1462.05,1259.68L1467.95,1270.65L1456.15,1270.65Z" fill="#d90000" stroke="#000" stroke-width="0.9" stroke-linejoin="miter"/>
<path d="M1445.51,1265.38L1451.41,1276.35L1439.61,1276.35Z" fill="#d90000" stroke="#000" stroke-width="0.9" stroke-linejoin="miter"/>
<path d="M1445.51,1282.49L1451.41,1293.46L1439.61,1293.46Z" fill="#d90000" stroke="#000" stroke-width="0.9" stroke-linejoin="miter"/>
<line x1="1241.6" y1="1086.1" x2="1299" y2="1086.1" stroke="#000" stroke-width="2.8"/>
<text font-size="28" text-anchor="middle" transform="translate(1273.3,1076.9) scale(1,1.0)">n.s.</text>
<line x1="1383" y1="1084.1" x2="1450.6" y2="1084.1" stroke="#000" stroke-width="2.8"/>
<text font-size="28" text-anchor="middle" font-weight="bold" transform="translate(1416.8,1089.6) scale(1,1.05)">*</text>
<line x1="1236.2" y1="1055.6" x2="1380" y2="1055.6" stroke="#000" stroke-width="2.8"/>
<text font-size="28" text-anchor="middle" font-weight="bold" transform="translate(1308.1,1061.1) scale(1,1.05)">*</text>
<line x1="1235.4" y1="1029.1" x2="1451.5" y2="1029.1" stroke="#000" stroke-width="2.8"/>
<text font-size="28" text-anchor="middle" transform="translate(1342.3,1019.9) scale(1,1.0)">n.s.</text>
<text font-size="31" text-anchor="middle" transform="translate(1116.7,1235) rotate(-90) scale(1,1.05)">Colon length (cm)</text>
<text font-size="44.5" text-anchor="start" font-weight="bold" transform="translate(3.5,1496.4) scale(1,1.0)">F</text>
<path d="M99.8,1613.3H111.5V1899" fill="none" stroke="#000" stroke-width="2.6" stroke-linejoin="miter" stroke-linecap="square"/>
<line x1="99.8" y1="1708.5" x2="111.5" y2="1708.5" stroke="#000" stroke-width="2.6"/>
<line x1="99.8" y1="1803.9" x2="111.5" y2="1803.9" stroke="#000" stroke-width="2.6"/>
<text font-size="28" text-anchor="end" transform="translate(97.6,1627.8) scale(1,1.05)">60</text>
<text font-size="28" text-anchor="end" transform="translate(97.6,1723) scale(1,1.05)">40</text>
<text font-size="28" text-anchor="end" transform="translate(97.6,1818.4) scale(1,1.05)">20</text>
<text font-size="28" text-anchor="end" transform="translate(97.6,1913.5) scale(1,1.05)">0</text>
<path d="M135.3,1899V1804.4H176.3V1899" fill="#fff" stroke="#000" stroke-width="2.6"/>
<path d="M203.5,1899V1803.9H243.7V1899" fill="#808080" stroke="#000" stroke-width="2.6"/>
<path d="M270.4,1899V1700.7H311.1V1899" fill="#fff" stroke="#d90000" stroke-width="2.6"/>
<rect x="335.9" y="1744.8" width="44.7" height="154.2" fill="#d90000"/>
<path d="M155.8,1769.4V1834.2M145.2,1769.4H166.4M145.2,1834.2H166.4" stroke="#000" stroke-width="2.6" fill="none" stroke-linecap="round"/>
<path d="M223.6,1751.5V1853.1M213,1751.5H234.2M213,1853.1H234.2" stroke="#000" stroke-width="2.6" fill="none" stroke-linecap="round"/>
<path d="M290.75,1671.6V1726.1M280.15,1671.6H301.35M280.15,1726.1H301.35" stroke="#d90000" stroke-width="2.6" fill="none" stroke-linecap="round"/>
<path d="M358.55,1726.6V1763M347.95,1726.6H369.15M347.95,1763H369.15" stroke="#d90000" stroke-width="2.6" fill="none" stroke-linecap="round"/>
<circle cx="155.54" cy="1746.31" r="5.75" fill="#000" stroke="#000" stroke-width="0.8"/>
<circle cx="155.54" cy="1758.49" r="5.75" fill="#000" stroke="#000" stroke-width="0.8"/>
<circle cx="139.21" cy="1797.38" r="5.75" fill="#000" stroke="#000" stroke-width="0.8"/>
<circle cx="155.54" cy="1796.08" r="5.75" fill="#000" stroke="#000" stroke-width="0.8"/>
<circle cx="173.17" cy="1803.08" r="5.75" fill="#000" stroke="#000" stroke-width="0.8"/>
<circle cx="155.54" cy="1809.82" r="5.75" fill="#000" stroke="#000" stroke-width="0.8"/>
<circle cx="147.25" cy="1830.3" r="5.75" fill="#000" stroke="#000" stroke-width="0.8"/>
<circle cx="164.1" cy="1831.08" r="5.75" fill="#000" stroke="#000" stroke-width="0.8"/>
<circle cx="155.54" cy="1847.15" r="5.75" fill="#000" stroke="#000" stroke-width="0.8"/>
<path d="M223.46,1729.67L229.36,1740.65L217.56,1740.65Z" fill="#000" stroke="#000" stroke-width="0.9" stroke-linejoin="miter"/>
<path d="M206.87,1755.6L212.77,1766.57L200.97,1766.57Z" fill="#000" stroke="#000" stroke-width="0.9" stroke-linejoin="miter"/>
<path d="M223.46,1758.19L229.36,1769.16L217.56,1769.16Z" fill="#000" stroke="#000" stroke-width="0.9" stroke-linejoin="miter"/>
<path d="M239.79,1755.6L245.69,1766.57L233.89,1766.57Z" fill="#000" stroke="#000" stroke-width="0.9" stroke-linejoin="miter"/>
<path d="M223.46,1794.48L229.36,1805.45L217.56,1805.45Z" fill="#000" stroke="#000" stroke-width="0.9" stroke-linejoin="miter"/>
<path d="M214.65,1827.66L220.55,1838.64L208.75,1838.64Z" fill="#000" stroke="#000" stroke-width="0.9" stroke-linejoin="miter"/>
<path d="M231.5,1825.59L237.4,1836.56L225.6,1836.56Z" fill="#000" stroke="#000" stroke-width="0.9" stroke-linejoin="miter"/>
<path d="M223.46,1849.44L229.36,1860.41L217.56,1860.41Z" fill="#000" stroke="#000" stroke-width="0.9" stroke-linejoin="miter"/>
<path d="M223.46,1877.44L229.36,1888.41L217.56,1888.41Z" fill="#000" stroke="#000" stroke-width="0.9" stroke-linejoin="miter"/>
<circle cx="290.86" cy="1659.46" r="5.75" fill="#d90000" stroke="#000" stroke-width="0.8"/>
<circle cx="274.01" cy="1664.65" r="5.75" fill="#d90000" stroke="#000" stroke-width="0.8"/>
<circle cx="307.97" cy="1669.05" r="5.75" fill="#d90000" stroke="#000" stroke-width="0.8"/>
<circle cx="274.01" cy="1698.09" r="5.75" fill="#d90000" stroke="#000" stroke-width="0.8"/>
<circle cx="307.97" cy="1708.46" r="5.75" fill="#d90000" stroke="#000" stroke-width="0.8"/>
<circle cx="274.01" cy="1714.42" r="5.75" fill="#d90000" stroke="#000" stroke-width="0.8"/>
<circle cx="290.86" cy="1720.12" r="5.75" fill="#d90000" stroke="#000" stroke-width="0.8"/>
<circle cx="307.97" cy="1723.49" r="5.75" fill="#d90000" stroke="#000" stroke-width="0.8"/>
<circle cx="274.01" cy="1729.97" r="5.75" fill="#d90000" stroke="#000" stroke-width="0.8"/>
<path d="M358.26,1710.23L364.16,1721.2L352.36,1721.2Z" fill="#d90000" stroke="#000" stroke-width="0.9" stroke-linejoin="miter"/>
<path d="M358.26,1725.01L364.16,1735.98L352.36,1735.98Z" fill="#d90000" stroke="#000" stroke-width="0.9" stroke-linejoin="miter"/>
<path d="M341.67,1730.97L347.57,1741.94L335.77,1741.94Z" fill="#d90000" stroke="#000" stroke-width="0.9" stroke-linejoin="miter"/>
<path d="M374.59,1733.56L380.49,1744.53L368.69,1744.53Z" fill="#d90000" stroke="#000" stroke-width="0.9" stroke-linejoin="miter"/>
<path d="M358.26,1738.75L364.16,1749.72L352.36,1749.72Z" fill="#d90000" stroke="#000" stroke-width="0.9" stroke-linejoin="miter"/>
<path d="M341.67,1742.63L347.57,1753.61L335.77,1753.61Z" fill="#d90000" stroke="#000" stroke-width="0.9" stroke-linejoin="miter"/>
<path d="M374.59,1745.23L380.49,1756.2L368.69,1756.2Z" fill="#d90000" stroke="#000" stroke-width="0.9" stroke-linejoin="miter"/>
<path d="M366.3,1762.08L372.2,1773.05L360.4,1773.05Z" fill="#d90000" stroke="#000" stroke-width="0.9" stroke-linejoin="miter"/>
<path d="M349.97,1768.56L355.87,1779.53L344.07,1779.53Z" fill="#d90000" stroke="#000" stroke-width="0.9" stroke-linejoin="miter"/>
<line x1="155" y1="1619.8" x2="212.6" y2="1619.8" stroke="#000" stroke-width="2.8"/>
<text font-size="28" text-anchor="middle" transform="translate(186.6,1610.6) scale(1,1.0)">n.s.</text>
<line x1="299.4" y1="1610" x2="356.5" y2="1610" stroke="#000" stroke-width="2.8"/>
<text font-size="28" text-anchor="middle" font-weight="bold" transform="translate(327.95,1615.5) scale(1,1.05)">*</text>
<line x1="155" y1="1582.7" x2="289.8" y2="1582.7" stroke="#000" stroke-width="2.8"/>
<text font-size="28" text-anchor="middle" font-weight="bold" transform="translate(222.4,1588.2) scale(1,1.05)">***</text>
<line x1="155" y1="1554.5" x2="358.5" y2="1554.5" stroke="#000" stroke-width="2.8"/>
<text font-size="28" text-anchor="middle" font-weight="bold" transform="translate(256.75,1560) scale(1,1.05)">**</text>
<text font-size="31.5" text-anchor="middle" transform="translate(258.6,1508.3) scale(1,1.05)">IFN-<tspan font-family="Liberation Serif">γ</tspan></text>
<text font-size="31" text-anchor="middle" transform="translate(38.9,1758.5) rotate(-90) scale(1,1.05)">% in CD4 T cells</text>
<path d="M467.6,1613.8H479.8V1899.3" fill="none" stroke="#000" stroke-width="2.6" stroke-linejoin="miter" stroke-linecap="square"/>
<line x1="467.6" y1="1671.1" x2="479.8" y2="1671.1" stroke="#000" stroke-width="2.6"/>
<line x1="467.6" y1="1728.7" x2="479.8" y2="1728.7" stroke="#000" stroke-width="2.6"/>
<line x1="467.6" y1="1785.7" x2="479.8" y2="1785.7" stroke="#000" stroke-width="2.6"/>
<line x1="467.6" y1="1842.7" x2="479.8" y2="1842.7" stroke="#000" stroke-width="2.6"/>
<text font-size="28" text-anchor="end" transform="translate(465.5,1628.3) scale(1,1.05)">50</text>
<text font-size="28" text-anchor="end" transform="translate(465.5,1685.6) scale(1,1.05)">40</text>
<text font-size="28" text-anchor="end" transform="translate(465.5,1743.2) scale(1,1.05)">30</text>
<text font-size="28" text-anchor="end" transform="translate(465.5,1800.2) scale(1,1.05)">20</text>
<text font-size="28" text-anchor="end" transform="translate(465.5,1857.2) scale(1,1.05)">10</text>
<text font-size="28" text-anchor="end" transform="translate(465.5,1913.8) scale(1,1.05)">0</text>
<path d="M503.9,1899.3V1822H544.6V1899.3" fill="#fff" stroke="#000" stroke-width="2.6"/>
<path d="M571,1899.3V1829H612V1899.3" fill="#808080" stroke="#000" stroke-width="2.6"/>
<path d="M637.9,1899.3V1715H679.9V1899.3" fill="#fff" stroke="#d90000" stroke-width="2.6"/>
<rect x="703.4" y="1736.5" width="45.2" height="162.8" fill="#d90000"/>
<path d="M524.25,1780.5V1858.8M513.65,1780.5H534.85M513.65,1858.8H534.85" stroke="#000" stroke-width="2.6" fill="none" stroke-linecap="round"/>
<path d="M591.5,1789.6V1863.5M580.9,1789.6H602.1M580.9,1863.5H602.1" stroke="#000" stroke-width="2.6" fill="none" stroke-linecap="round"/>
<path d="M658.9,1682V1744.2M648.3,1682H669.5M648.3,1744.2H669.5" stroke="#d90000" stroke-width="2.6" fill="none" stroke-linecap="round"/>
<path d="M726.3,1701V1772M715.7,1701H736.9M715.7,1772H736.9" stroke="#d90000" stroke-width="2.6" fill="none" stroke-linecap="round"/>
<circle cx="524.39" cy="1767.56" r="5.75" fill="#000" stroke="#000" stroke-width="0.8"/>
<circle cx="507.54" cy="1787.01" r="5.75" fill="#000" stroke="#000" stroke-width="0.8"/>
<circle cx="524.39" cy="1793.49" r="5.75" fill="#000" stroke="#000" stroke-width="0.8"/>
<circle cx="540.73" cy="1789.6" r="5.75" fill="#000" stroke="#000" stroke-width="0.8"/>
<circle cx="524.39" cy="1810.86" r="5.75" fill="#000" stroke="#000" stroke-width="0.8"/>
<circle cx="524.39" cy="1833.15" r="5.75" fill="#000" stroke="#000" stroke-width="0.8"/>
<circle cx="524.39" cy="1849.22" r="5.75" fill="#000" stroke="#000" stroke-width="0.8"/>
<circle cx="515.58" cy="1872.55" r="5.75" fill="#000" stroke="#000" stroke-width="0.8"/>
<circle cx="532.95" cy="1872.55" r="5.75" fill="#000" stroke="#000" stroke-width="0.8"/>
<path d="M591.8,1768.04L597.7,1779.01L585.9,1779.01Z" fill="#000" stroke="#000" stroke-width="0.9" stroke-linejoin="miter"/>
<path d="M591.8,1781.52L597.7,1792.49L585.9,1792.49Z" fill="#000" stroke="#000" stroke-width="0.9" stroke-linejoin="miter"/>
<path d="M591.8,1798.37L597.7,1809.34L585.9,1809.34Z" fill="#000" stroke="#000" stroke-width="0.9" stroke-linejoin="miter"/>
<path d="M574.94,1826.11L580.84,1837.08L569.04,1837.08Z" fill="#000" stroke="#000" stroke-width="0.9" stroke-linejoin="miter"/>
<path d="M591.8,1827.66L597.7,1838.64L585.9,1838.64Z" fill="#000" stroke="#000" stroke-width="0.9" stroke-linejoin="miter"/>
<path d="M608.13,1830.77L614.03,1841.75L602.23,1841.75Z" fill="#000" stroke="#000" stroke-width="0.9" stroke-linejoin="miter"/>
<path d="M585.57,1833.37L591.47,1844.34L579.67,1844.34Z" fill="#000" stroke="#000" stroke-width="0.9" stroke-linejoin="miter"/>
<path d="M598.28,1839.85L604.18,1850.82L592.38,1850.82Z" fill="#000" stroke="#000" stroke-width="0.9" stroke-linejoin="miter"/>
<path d="M591.8,1891.69L597.7,1902.67L585.9,1902.67Z" fill="#000" stroke="#000" stroke-width="0.9" stroke-linejoin="miter"/>
<circle cx="659.2" cy="1673.46" r="5.75" fill="#d90000" stroke="#000" stroke-width="0.8"/>
<circle cx="642.61" cy="1682.79" r="5.75" fill="#d90000" stroke="#000" stroke-width="0.8"/>
<circle cx="659.2" cy="1686.42" r="5.75" fill="#d90000" stroke="#000" stroke-width="0.8"/>
<circle cx="667.23" cy="1698.87" r="5.75" fill="#d90000" stroke="#000" stroke-width="0.8"/>
<circle cx="650.9" cy="1706.12" r="5.75" fill="#d90000" stroke="#000" stroke-width="0.8"/>
<circle cx="642.61" cy="1731.27" r="5.75" fill="#d90000" stroke="#000" stroke-width="0.8"/>
<circle cx="675.53" cy="1734.38" r="5.75" fill="#d90000" stroke="#000" stroke-width="0.8"/>
<circle cx="659.2" cy="1739.83" r="5.75" fill="#d90000" stroke="#000" stroke-width="0.8"/>
<circle cx="659.2" cy="1764.97" r="5.75" fill="#d90000" stroke="#000" stroke-width="0.8"/>
<path d="M726.6,1683.53L732.5,1694.5L720.7,1694.5Z" fill="#d90000" stroke="#000" stroke-width="0.9" stroke-linejoin="miter"/>
<path d="M710.01,1698.56L715.91,1709.54L704.11,1709.54Z" fill="#d90000" stroke="#000" stroke-width="0.9" stroke-linejoin="miter"/>
<path d="M742.41,1705.82L748.31,1716.8L736.51,1716.8Z" fill="#d90000" stroke="#000" stroke-width="0.9" stroke-linejoin="miter"/>
<path d="M710.01,1715.41L715.91,1726.39L704.11,1726.39Z" fill="#d90000" stroke="#000" stroke-width="0.9" stroke-linejoin="miter"/>
<path d="M742.41,1720.6L748.31,1731.57L736.51,1731.57Z" fill="#d90000" stroke="#000" stroke-width="0.9" stroke-linejoin="miter"/>
<path d="M726.6,1742.12L732.5,1753.09L720.7,1753.09Z" fill="#d90000" stroke="#000" stroke-width="0.9" stroke-linejoin="miter"/>
<path d="M710.01,1764.67L715.91,1775.64L704.11,1775.64Z" fill="#d90000" stroke="#000" stroke-width="0.9" stroke-linejoin="miter"/>
<path d="M742.41,1774.52L748.31,1785.49L736.51,1785.49Z" fill="#d90000" stroke="#000" stroke-width="0.9" stroke-linejoin="miter"/>
<path d="M710.01,1781.52L715.91,1792.49L704.11,1792.49Z" fill="#d90000" stroke="#000" stroke-width="0.9" stroke-linejoin="miter"/>
<line x1="523.1" y1="1622.4" x2="580.9" y2="1622.4" stroke="#000" stroke-width="2.8"/>
<text font-size="28" text-anchor="middle" transform="translate(554.2,1613.2) scale(1,1.0)">n.s.</text>
<line x1="667.8" y1="1621.6" x2="726.1" y2="1621.6" stroke="#000" stroke-width="2.8"/>
<text font-size="28" text-anchor="middle" transform="translate(699.4,1612.4) scale(1,1.0)">n.s.</text>
<line x1="523.1" y1="1582.7" x2="658.2" y2="1582.7" stroke="#000" stroke-width="2.8"/>
<text font-size="28" text-anchor="middle" font-weight="bold" transform="translate(590.65,1588.2) scale(1,1.05)">***</text>
<line x1="523.1" y1="1554.5" x2="726.6" y2="1554.5" stroke="#000" stroke-width="2.8"/>
<text font-size="28" text-anchor="middle" font-weight="bold" transform="translate(624.85,1560) scale(1,1.05)">***</text>
<text font-size="31.5" text-anchor="middle" transform="translate(625.6,1508.3) scale(1,1.05)">IL-17A</text>
<text font-size="44.5" text-anchor="start" font-weight="bold" transform="translate(821.5,1495.9) scale(1,1.0)">G</text>
<path d="M938.8,1612H951.1V1900" fill="none" stroke="#000" stroke-width="2.6" stroke-linejoin="miter" stroke-linecap="square"/>
<line x1="938.8" y1="1684.1" x2="951.1" y2="1684.1" stroke="#000" stroke-width="2.6"/>
<line x1="938.8" y1="1756.2" x2="951.1" y2="1756.2" stroke="#000" stroke-width="2.6"/>
<line x1="938.8" y1="1828.3" x2="951.1" y2="1828.3" stroke="#000" stroke-width="2.6"/>
<text font-size="28" text-anchor="end" transform="translate(937.3,1625.4) scale(1,1.05)">40</text>
<text font-size="28" text-anchor="end" transform="translate(937.3,1697.5) scale(1,1.05)">30</text>
<text font-size="28" text-anchor="end" transform="translate(937.3,1769.6) scale(1,1.05)">20</text>
<text font-size="28" text-anchor="end" transform="translate(937.3,1841.7) scale(1,1.05)">10</text>
<text font-size="28" text-anchor="end" transform="translate(937.3,1913.4) scale(1,1.05)">0</text>
<path d="M975.6,1900V1743.4H1016.9V1900" fill="#fff" stroke="#000" stroke-width="2.6"/>
<path d="M1043,1900V1753.5H1083.9V1900" fill="#808080" stroke="#000" stroke-width="2.6"/>
<path d="M1110.3,1900V1791H1151.1V1900" fill="#fff" stroke="#d90000" stroke-width="2.6"/>
<rect x="1175.8" y="1777.4" width="44.2" height="122.6" fill="#d90000"/>
<path d="M996.25,1697.7V1785.3M985.65,1697.7H1006.85M985.65,1785.3H1006.85" stroke="#000" stroke-width="2.6" fill="none" stroke-linecap="round"/>
<path d="M1063.45,1696.3V1807.1M1052.85,1696.3H1074.05M1052.85,1807.1H1074.05" stroke="#000" stroke-width="2.6" fill="none" stroke-linecap="round"/>
<path d="M1130.7,1747.5V1831.6M1120.1,1747.5H1141.3M1120.1,1831.6H1141.3" stroke="#d90000" stroke-width="2.6" fill="none" stroke-linecap="round"/>
<path d="M1198.2,1746.1V1808M1187.6,1746.1H1208.8M1187.6,1808H1208.8" stroke="#d90000" stroke-width="2.6" fill="none" stroke-linecap="round"/>
<circle cx="979.64" cy="1686.25" r="5.75" fill="#000" stroke="#000" stroke-width="0.8"/>
<circle cx="1012.85" cy="1678.63" r="5.75" fill="#000" stroke="#000" stroke-width="0.8"/>
<circle cx="995.97" cy="1699.05" r="5.75" fill="#000" stroke="#000" stroke-width="0.8"/>
<circle cx="995.97" cy="1733.07" r="5.75" fill="#000" stroke="#000" stroke-width="0.8"/>
<circle cx="979.64" cy="1757.57" r="5.75" fill="#000" stroke="#000" stroke-width="0.8"/>
<circle cx="979.64" cy="1769" r="5.75" fill="#000" stroke="#000" stroke-width="0.8"/>
<circle cx="1012.85" cy="1765.73" r="5.75" fill="#000" stroke="#000" stroke-width="0.8"/>
<circle cx="1012.85" cy="1786.15" r="5.75" fill="#000" stroke="#000" stroke-width="0.8"/>
<circle cx="979.64" cy="1796.22" r="5.75" fill="#000" stroke="#000" stroke-width="0.8"/>
<path d="M1063.47,1622.79L1069.37,1633.77L1057.57,1633.77Z" fill="#000" stroke="#000" stroke-width="0.9" stroke-linejoin="miter"/>
<path d="M1063.47,1696.28L1069.37,1707.26L1057.57,1707.26Z" fill="#000" stroke="#000" stroke-width="0.9" stroke-linejoin="miter"/>
<path d="M1063.47,1743.91L1069.37,1754.89L1057.57,1754.89Z" fill="#000" stroke="#000" stroke-width="0.9" stroke-linejoin="miter"/>
<path d="M1047.14,1752.08L1053.04,1763.05L1041.24,1763.05Z" fill="#000" stroke="#000" stroke-width="0.9" stroke-linejoin="miter"/>
<path d="M1063.47,1760.79L1069.37,1771.76L1057.57,1771.76Z" fill="#000" stroke="#000" stroke-width="0.9" stroke-linejoin="miter"/>
<path d="M1047.14,1777.94L1053.04,1788.91L1041.24,1788.91Z" fill="#000" stroke="#000" stroke-width="0.9" stroke-linejoin="miter"/>
<path d="M1063.47,1784.74L1069.37,1795.72L1057.57,1795.72Z" fill="#000" stroke="#000" stroke-width="0.9" stroke-linejoin="miter"/>
<path d="M1080.35,1788.01L1086.25,1798.98L1074.45,1798.98Z" fill="#000" stroke="#000" stroke-width="0.9" stroke-linejoin="miter"/>
<path d="M1047.14,1792.91L1053.04,1803.88L1041.24,1803.88Z" fill="#000" stroke="#000" stroke-width="0.9" stroke-linejoin="miter"/>
<circle cx="1114.37" cy="1731.71" r="5.75" fill="#d90000" stroke="#000" stroke-width="0.8"/>
<circle cx="1114.37" cy="1742.6" r="5.75" fill="#d90000" stroke="#000" stroke-width="0.8"/>
<circle cx="1130.7" cy="1742.6" r="5.75" fill="#d90000" stroke="#000" stroke-width="0.8"/>
<circle cx="1147.58" cy="1779.34" r="5.75" fill="#d90000" stroke="#000" stroke-width="0.8"/>
<circle cx="1130.7" cy="1790.23" r="5.75" fill="#d90000" stroke="#000" stroke-width="0.8"/>
<circle cx="1130.7" cy="1816.09" r="5.75" fill="#d90000" stroke="#000" stroke-width="0.8"/>
<circle cx="1130.7" cy="1828.33" r="5.75" fill="#d90000" stroke="#000" stroke-width="0.8"/>
<circle cx="1147.58" cy="1831.87" r="5.75" fill="#d90000" stroke="#000" stroke-width="0.8"/>
<circle cx="1114.37" cy="1839.22" r="5.75" fill="#d90000" stroke="#000" stroke-width="0.8"/>
<path d="M1197.93,1728.94L1203.83,1739.92L1192.03,1739.92Z" fill="#d90000" stroke="#000" stroke-width="0.9" stroke-linejoin="miter"/>
<path d="M1197.93,1742.55L1203.83,1753.53L1192.03,1753.53Z" fill="#d90000" stroke="#000" stroke-width="0.9" stroke-linejoin="miter"/>
<path d="M1181.87,1757.52L1187.77,1768.5L1175.97,1768.5Z" fill="#d90000" stroke="#000" stroke-width="0.9" stroke-linejoin="miter"/>
<path d="M1214.26,1758.88L1220.16,1769.86L1208.36,1769.86Z" fill="#d90000" stroke="#000" stroke-width="0.9" stroke-linejoin="miter"/>
<path d="M1197.93,1768.41L1203.83,1779.38L1192.03,1779.38Z" fill="#d90000" stroke="#000" stroke-width="0.9" stroke-linejoin="miter"/>
<path d="M1214.26,1772.49L1220.16,1783.47L1208.36,1783.47Z" fill="#d90000" stroke="#000" stroke-width="0.9" stroke-linejoin="miter"/>
<path d="M1197.93,1782.02L1203.83,1792.99L1192.03,1792.99Z" fill="#d90000" stroke="#000" stroke-width="0.9" stroke-linejoin="miter"/>
<path d="M1189.77,1819.58L1195.67,1830.56L1183.87,1830.56Z" fill="#d90000" stroke="#000" stroke-width="0.9" stroke-linejoin="miter"/>
<path d="M1206.1,1816.04L1212,1827.02L1200.2,1827.02Z" fill="#d90000" stroke="#000" stroke-width="0.9" stroke-linejoin="miter"/>
<line x1="999.5" y1="1616.8" x2="1057.2" y2="1616.8" stroke="#000" stroke-width="2.8"/>
<text font-size="28" text-anchor="middle" transform="translate(1031.4,1607.6) scale(1,1.0)">n.s.</text>
<line x1="1137.5" y1="1616.8" x2="1195.5" y2="1616.8" stroke="#000" stroke-width="2.8"/>
<text font-size="28" text-anchor="middle" transform="translate(1169.4,1607.6) scale(1,1.0)">n.s.</text>
<line x1="997.3" y1="1582" x2="1133.4" y2="1582" stroke="#000" stroke-width="2.8"/>
<text font-size="28" text-anchor="middle" transform="translate(1070.8,1572.8) scale(1,1.0)">n.s.</text>
<line x1="997.3" y1="1547.4" x2="1197.9" y2="1547.4" stroke="#000" stroke-width="2.8"/>
<text font-size="28" text-anchor="middle" transform="translate(1104.8,1538.2) scale(1,1.0)">n.s.</text>
<text font-size="31.5" text-anchor="middle" transform="translate(1099.8,1505.8) scale(1,1.05)">Foxp3</text>
<text font-size="31" text-anchor="middle" transform="translate(874.9,1759) rotate(-90) scale(1,1.05)">% in CD4 T cells</text>
<path d="M1318,1612.5H1329.6V1901.1" fill="none" stroke="#000" stroke-width="2.6" stroke-linejoin="miter" stroke-linecap="square"/>
<line x1="1318" y1="1708.7" x2="1329.6" y2="1708.7" stroke="#000" stroke-width="2.6"/>
<line x1="1318" y1="1804.9" x2="1329.6" y2="1804.9" stroke="#000" stroke-width="2.6"/>
<text font-size="28" text-anchor="end" transform="translate(1312.2,1623) scale(1,1.05)">15</text>
<text font-size="28" text-anchor="end" transform="translate(1312.2,1719.2) scale(1,1.05)">10</text>
<text font-size="28" text-anchor="end" transform="translate(1312.2,1815.4) scale(1,1.05)">5</text>
<text font-size="28" text-anchor="end" transform="translate(1312.2,1911.6) scale(1,1.05)">0</text>
<path d="M1353.5,1901.1V1743.8H1394.3V1901.1" fill="#fff" stroke="#000" stroke-width="2.6"/>
<path d="M1420.9,1901.1V1743.8H1460.9V1901.1" fill="#808080" stroke="#000" stroke-width="2.6"/>
<path d="M1487.2,1901.1V1731.5H1527.2V1901.1" fill="#fff" stroke="#d90000" stroke-width="2.6"/>
<rect x="1552.9" y="1731.5" width="41.5" height="169.6" fill="#d90000"/>
<path d="M1373.9,1708.1V1776.7M1363.3,1708.1H1384.5M1363.3,1776.7H1384.5" stroke="#000" stroke-width="2.6" fill="none" stroke-linecap="round"/>
<path d="M1440.9,1712.4V1771.5M1430.3,1712.4H1451.5M1430.3,1771.5H1451.5" stroke="#000" stroke-width="2.6" fill="none" stroke-linecap="round"/>
<path d="M1507.2,1687.8V1771.5M1496.6,1687.8H1517.8M1496.6,1771.5H1517.8" stroke="#d90000" stroke-width="2.6" fill="none" stroke-linecap="round"/>
<path d="M1573.95,1697.2V1766M1563.35,1697.2H1584.55M1563.35,1766H1584.55" stroke="#d90000" stroke-width="2.6" fill="none" stroke-linecap="round"/>
<circle cx="1373.77" cy="1687.21" r="5.75" fill="#000" stroke="#000" stroke-width="0.8"/>
<circle cx="1373.77" cy="1738.08" r="5.75" fill="#000" stroke="#000" stroke-width="0.8"/>
<circle cx="1357.19" cy="1750.09" r="5.75" fill="#000" stroke="#000" stroke-width="0.8"/>
<circle cx="1390.63" cy="1752.94" r="5.75" fill="#000" stroke="#000" stroke-width="0.8"/>
<circle cx="1373.77" cy="1782.09" r="5.75" fill="#000" stroke="#000" stroke-width="0.8"/>
<path d="M1434.93,1623.14L1440.83,1634.11L1429.03,1634.11Z" fill="#000" stroke="#000" stroke-width="0.9" stroke-linejoin="miter"/>
<path d="M1440.65,1703.16L1446.55,1714.13L1434.75,1714.13Z" fill="#000" stroke="#000" stroke-width="0.9" stroke-linejoin="miter"/>
<path d="M1440.65,1721.74L1446.55,1732.71L1434.75,1732.71Z" fill="#000" stroke="#000" stroke-width="0.9" stroke-linejoin="miter"/>
<path d="M1440.65,1736.02L1446.55,1747L1434.75,1747Z" fill="#000" stroke="#000" stroke-width="0.9" stroke-linejoin="miter"/>
<path d="M1440.65,1750.31L1446.55,1761.29L1434.75,1761.29Z" fill="#000" stroke="#000" stroke-width="0.9" stroke-linejoin="miter"/>
<path d="M1440.65,1779.47L1446.55,1790.44L1434.75,1790.44Z" fill="#000" stroke="#000" stroke-width="0.9" stroke-linejoin="miter"/>
<circle cx="1507.24" cy="1677.78" r="5.75" fill="#d90000" stroke="#000" stroke-width="0.8"/>
<circle cx="1507.24" cy="1690.93" r="5.75" fill="#d90000" stroke="#000" stroke-width="0.8"/>
<circle cx="1507.24" cy="1750.66" r="5.75" fill="#d90000" stroke="#000" stroke-width="0.8"/>
<circle cx="1490.95" cy="1765.8" r="5.75" fill="#d90000" stroke="#000" stroke-width="0.8"/>
<circle cx="1524.38" cy="1762.09" r="5.75" fill="#d90000" stroke="#000" stroke-width="0.8"/>
<path d="M1573.83,1671.72L1579.73,1682.69L1567.93,1682.69Z" fill="#d90000" stroke="#000" stroke-width="0.9" stroke-linejoin="miter"/>
<path d="M1557.82,1730.31L1563.72,1741.28L1551.92,1741.28Z" fill="#d90000" stroke="#000" stroke-width="0.9" stroke-linejoin="miter"/>
<path d="M1590.12,1726.88L1596.02,1737.85L1584.22,1737.85Z" fill="#d90000" stroke="#000" stroke-width="0.9" stroke-linejoin="miter"/>
<path d="M1573.83,1741.74L1579.73,1752.71L1567.93,1752.71Z" fill="#d90000" stroke="#000" stroke-width="0.9" stroke-linejoin="miter"/>
<path d="M1573.83,1759.46L1579.73,1770.43L1567.93,1770.43Z" fill="#d90000" stroke="#000" stroke-width="0.9" stroke-linejoin="miter"/>
<line x1="1370.9" y1="1617.2" x2="1428.6" y2="1617.2" stroke="#000" stroke-width="2.8"/>
<text font-size="28" text-anchor="middle" transform="translate(1402.3,1608) scale(1,1.0)">n.s.</text>
<line x1="1509.2" y1="1617.2" x2="1566.7" y2="1617.2" stroke="#000" stroke-width="2.8"/>
<text font-size="28" text-anchor="middle" transform="translate(1541,1608) scale(1,1.0)">n.s.</text>
<line x1="1369.2" y1="1582" x2="1505" y2="1582" stroke="#000" stroke-width="2.8"/>
<text font-size="28" text-anchor="middle" transform="translate(1442.4,1572.8) scale(1,1.0)">n.s.</text>
<line x1="1369.2" y1="1548" x2="1569.3" y2="1548" stroke="#000" stroke-width="2.8"/>
<text font-size="28" text-anchor="middle" transform="translate(1477.2,1538.8) scale(1,1.0)">n.s.</text>
<text font-size="31.5" text-anchor="middle" transform="translate(1472.3,1505.7) scale(1,1.05)">IL-10</text>
<text font-size="44.5" text-anchor="start" font-weight="bold" transform="translate(3.5,1985) scale(1,1.0)">H</text>
<path d="M99.3,2082H111V2370.5" fill="none" stroke="#000" stroke-width="2.6" stroke-linejoin="miter" stroke-linecap="square"/>
<line x1="99.3" y1="2139.9" x2="111" y2="2139.9" stroke="#000" stroke-width="2.6"/>
<line x1="99.3" y1="2197.6" x2="111" y2="2197.6" stroke="#000" stroke-width="2.6"/>
<line x1="99.3" y1="2255.3" x2="111" y2="2255.3" stroke="#000" stroke-width="2.6"/>
<line x1="99.3" y1="2312.8" x2="111" y2="2312.8" stroke="#000" stroke-width="2.6"/>
<text font-size="28" text-anchor="end" transform="translate(97,2094.4) scale(1,1.05)">50</text>
<text font-size="28" text-anchor="end" transform="translate(97,2152.3) scale(1,1.05)">40</text>
<text font-size="28" text-anchor="end" transform="translate(97,2210) scale(1,1.05)">30</text>
<text font-size="28" text-anchor="end" transform="translate(97,2267.7) scale(1,1.05)">20</text>
<text font-size="28" text-anchor="end" transform="translate(97,2325.2) scale(1,1.05)">10</text>
<text font-size="28" text-anchor="end" transform="translate(97,2382.9) scale(1,1.05)">0</text>
<path d="M135.3,2370.5V2233H175.6V2370.5" fill="#fff" stroke="#000" stroke-width="2.6"/>
<path d="M202.8,2370.5V2222.1H242.2V2370.5" fill="#808080" stroke="#000" stroke-width="2.6"/>
<path d="M268.6,2370.5V2194.4H308.9V2370.5" fill="#fff" stroke="#d90000" stroke-width="2.6"/>
<rect x="334.2" y="2194.4" width="42" height="176.1" fill="#d90000"/>
<path d="M155.45,2200.3V2262.1M144.85,2200.3H166.05M144.85,2262.1H166.05" stroke="#000" stroke-width="2.6" fill="none" stroke-linecap="round"/>
<path d="M222.5,2184.8V2255.6M211.9,2184.8H233.1M211.9,2255.6H233.1" stroke="#000" stroke-width="2.6" fill="none" stroke-linecap="round"/>
<path d="M288.75,2144.5V2240.6M278.15,2144.5H299.35M278.15,2240.6H299.35" stroke="#d90000" stroke-width="2.6" fill="none" stroke-linecap="round"/>
<path d="M355.5,2169.6V2219M344.9,2169.6H366.1M344.9,2219H366.1" stroke="#d90000" stroke-width="2.6" fill="none" stroke-linecap="round"/>
<circle cx="155.69" cy="2192.73" r="5.75" fill="#000" stroke="#000" stroke-width="0.8"/>
<circle cx="155.69" cy="2214.77" r="5.75" fill="#000" stroke="#000" stroke-width="0.8"/>
<circle cx="155.69" cy="2229.74" r="5.75" fill="#000" stroke="#000" stroke-width="0.8"/>
<circle cx="155.69" cy="2244.71" r="5.75" fill="#000" stroke="#000" stroke-width="0.8"/>
<circle cx="155.69" cy="2274.38" r="5.75" fill="#000" stroke="#000" stroke-width="0.8"/>
<path d="M215.02,2126.82L220.92,2137.79L209.12,2137.79Z" fill="#000" stroke="#000" stroke-width="0.9" stroke-linejoin="miter"/>
<path d="M222.65,2167.64L228.55,2178.62L216.75,2178.62Z" fill="#000" stroke="#000" stroke-width="0.9" stroke-linejoin="miter"/>
<path d="M222.65,2196.22L228.55,2207.2L216.75,2207.2Z" fill="#000" stroke="#000" stroke-width="0.9" stroke-linejoin="miter"/>
<path d="M222.65,2218L228.55,2228.97L216.75,2228.97Z" fill="#000" stroke="#000" stroke-width="0.9" stroke-linejoin="miter"/>
<path d="M222.65,2238.41L228.55,2249.38L216.75,2249.38Z" fill="#000" stroke="#000" stroke-width="0.9" stroke-linejoin="miter"/>
<path d="M222.65,2256.92L228.55,2267.89L216.75,2267.89Z" fill="#000" stroke="#000" stroke-width="0.9" stroke-linejoin="miter"/>
<circle cx="289.06" cy="2143.19" r="5.75" fill="#d90000" stroke="#000" stroke-width="0.8"/>
<circle cx="289.06" cy="2160.07" r="5.75" fill="#d90000" stroke="#000" stroke-width="0.8"/>
<circle cx="289.06" cy="2170.95" r="5.75" fill="#d90000" stroke="#000" stroke-width="0.8"/>
<circle cx="272.18" cy="2245.8" r="5.75" fill="#d90000" stroke="#000" stroke-width="0.8"/>
<circle cx="305.66" cy="2241.72" r="5.75" fill="#d90000" stroke="#000" stroke-width="0.8"/>
<path d="M355.74,2155.39L361.64,2166.37L349.84,2166.37Z" fill="#d90000" stroke="#000" stroke-width="0.9" stroke-linejoin="miter"/>
<path d="M355.74,2175.26L361.64,2186.24L349.84,2186.24Z" fill="#d90000" stroke="#000" stroke-width="0.9" stroke-linejoin="miter"/>
<path d="M338.87,2193.5L344.77,2204.47L332.97,2204.47Z" fill="#d90000" stroke="#000" stroke-width="0.9" stroke-linejoin="miter"/>
<path d="M372.07,2196.77L377.97,2207.74L366.17,2207.74Z" fill="#d90000" stroke="#000" stroke-width="0.9" stroke-linejoin="miter"/>
<path d="M355.74,2218L361.64,2228.97L349.84,2228.97Z" fill="#d90000" stroke="#000" stroke-width="0.9" stroke-linejoin="miter"/>
<line x1="151.6" y1="2122.2" x2="209" y2="2122.2" stroke="#000" stroke-width="2.8"/>
<text font-size="28" text-anchor="middle" transform="translate(182.4,2113) scale(1,1.0)">n.s.</text>
<line x1="289.3" y1="2122.2" x2="347.6" y2="2122.2" stroke="#000" stroke-width="2.8"/>
<text font-size="28" text-anchor="middle" transform="translate(321.2,2113) scale(1,1.0)">n.s.</text>
<line x1="149.7" y1="2086.6" x2="285" y2="2086.6" stroke="#000" stroke-width="2.8"/>
<text font-size="28" text-anchor="middle" transform="translate(223.2,2077.4) scale(1,1.0)">n.s.</text>
<line x1="149.7" y1="2053.4" x2="349.8" y2="2053.4" stroke="#000" stroke-width="2.8"/>
<text font-size="28" text-anchor="middle" transform="translate(257.2,2044.2) scale(1,1.0)">n.s.</text>
<text font-size="31.5" text-anchor="middle" transform="translate(254.5,2003) scale(1,1.05)">IFN-<tspan font-family="Liberation Serif">γ</tspan></text>
<text font-size="31" text-anchor="middle" transform="translate(38.1,2233) rotate(-90) scale(1,1.05)">% in ILC3 cells</text>
<text font-size="44.5" text-anchor="start" font-weight="bold" transform="translate(458.5,1985) scale(1,1.0)">I</text>
<path d="M554.3,2079.2H566.6V2368" fill="none" stroke="#000" stroke-width="2.6" stroke-linejoin="miter" stroke-linecap="square"/>
<line x1="554.3" y1="2223.6" x2="566.6" y2="2223.6" stroke="#000" stroke-width="2.6"/>
<text font-size="28" text-anchor="end" transform="translate(547.3,2091.3) scale(1,1.05)">8</text>
<text font-size="28" text-anchor="end" transform="translate(547.3,2235.7) scale(1,1.05)">4</text>
<text font-size="28" text-anchor="end" transform="translate(547.3,2380.1) scale(1,1.05)">0</text>
<path d="M590.2,2368V2265.1H630.5V2368" fill="#fff" stroke="#000" stroke-width="2.6"/>
<path d="M657.7,2368V2267H697.2V2368" fill="#808080" stroke="#000" stroke-width="2.6"/>
<path d="M723.9,2368V2203.1H764.4V2368" fill="#fff" stroke="#d90000" stroke-width="2.6"/>
<rect x="790" y="2278.7" width="41.9" height="89.3" fill="#d90000"/>
<path d="M610.35,2239.8V2286.1M599.75,2239.8H620.95M599.75,2286.1H620.95" stroke="#000" stroke-width="2.6" fill="none" stroke-linecap="round"/>
<path d="M677.45,2241.2V2288.8M666.85,2241.2H688.05M666.85,2288.8H688.05" stroke="#000" stroke-width="2.6" fill="none" stroke-linecap="round"/>
<path d="M744.15,2149.5V2252.6M733.55,2149.5H754.75M733.55,2252.6H754.75" stroke="#d90000" stroke-width="2.6" fill="none" stroke-linecap="round"/>
<path d="M811.25,2258.9V2298M800.65,2258.9H821.85M800.65,2298H821.85" stroke="#d90000" stroke-width="2.6" fill="none" stroke-linecap="round"/>
<circle cx="610.66" cy="2228.38" r="5.75" fill="#000" stroke="#000" stroke-width="0.8"/>
<circle cx="610.66" cy="2254.24" r="5.75" fill="#000" stroke="#000" stroke-width="0.8"/>
<circle cx="610.66" cy="2266.22" r="5.75" fill="#000" stroke="#000" stroke-width="0.8"/>
<circle cx="594.6" cy="2286.9" r="5.75" fill="#000" stroke="#000" stroke-width="0.8"/>
<circle cx="627.26" cy="2278.74" r="5.75" fill="#000" stroke="#000" stroke-width="0.8"/>
<path d="M677.62,2221.54L683.52,2232.51L671.72,2232.51Z" fill="#000" stroke="#000" stroke-width="0.9" stroke-linejoin="miter"/>
<path d="M693.67,2255.56L699.57,2266.53L687.77,2266.53Z" fill="#000" stroke="#000" stroke-width="0.9" stroke-linejoin="miter"/>
<path d="M661.83,2266.99L667.73,2277.96L655.93,2277.96Z" fill="#000" stroke="#000" stroke-width="0.9" stroke-linejoin="miter"/>
<path d="M693.67,2276.52L699.57,2287.49L687.77,2287.49Z" fill="#000" stroke="#000" stroke-width="0.9" stroke-linejoin="miter"/>
<path d="M661.83,2281.96L667.73,2292.93L655.93,2292.93Z" fill="#000" stroke="#000" stroke-width="0.9" stroke-linejoin="miter"/>
<circle cx="744.3" cy="2126.86" r="5.75" fill="#d90000" stroke="#000" stroke-width="0.8"/>
<circle cx="744.3" cy="2169.86" r="5.75" fill="#d90000" stroke="#000" stroke-width="0.8"/>
<circle cx="744.3" cy="2220.76" r="5.75" fill="#d90000" stroke="#000" stroke-width="0.8"/>
<circle cx="727.97" cy="2245.26" r="5.75" fill="#d90000" stroke="#000" stroke-width="0.8"/>
<circle cx="760.63" cy="2243.9" r="5.75" fill="#d90000" stroke="#000" stroke-width="0.8"/>
<path d="M810.71,2247.94L816.61,2258.91L804.81,2258.91Z" fill="#d90000" stroke="#000" stroke-width="0.9" stroke-linejoin="miter"/>
<path d="M794.65,2272.98L800.55,2283.95L788.75,2283.95Z" fill="#d90000" stroke="#000" stroke-width="0.9" stroke-linejoin="miter"/>
<path d="M827.32,2265.63L833.22,2276.6L821.42,2276.6Z" fill="#d90000" stroke="#000" stroke-width="0.9" stroke-linejoin="miter"/>
<path d="M827.32,2276.52L833.22,2287.49L821.42,2287.49Z" fill="#d90000" stroke="#000" stroke-width="0.9" stroke-linejoin="miter"/>
<path d="M810.71,2296.93L816.61,2307.9L804.81,2307.9Z" fill="#d90000" stroke="#000" stroke-width="0.9" stroke-linejoin="miter"/>
<line x1="618.3" y1="2189.5" x2="675.4" y2="2189.5" stroke="#000" stroke-width="2.8"/>
<text font-size="28" text-anchor="middle" transform="translate(648.2,2180.3) scale(1,1.0)">n.s.</text>
<line x1="754.4" y1="2106.4" x2="812.3" y2="2106.4" stroke="#000" stroke-width="2.8"/>
<text font-size="28" text-anchor="middle" font-weight="bold" transform="translate(783.35,2107.9) scale(1,1.05)">**</text>
<line x1="618.8" y1="2068.3" x2="754.4" y2="2068.3" stroke="#000" stroke-width="2.8"/>
<text font-size="28" text-anchor="middle" font-weight="bold" transform="translate(686.6,2073.8) scale(1,1.05)">*</text>
<line x1="618.8" y1="2039.8" x2="822.4" y2="2039.8" stroke="#000" stroke-width="2.8"/>
<text font-size="28" text-anchor="middle" transform="translate(716.3,2030.6) scale(1,1.0)">n.s.</text>
<text font-size="31.5" text-anchor="middle" transform="translate(705.4,1982.1) scale(1,1.05)">Neutrophil</text>
<text font-size="31" text-anchor="middle" transform="translate(508,2205.8) rotate(-90) scale(1,1.05)">Cell number</text>
<path d="M908,2077.9H920.3V2366.4" fill="none" stroke="#000" stroke-width="2.6" stroke-linejoin="miter" stroke-linecap="square"/>
<line x1="908" y1="2222.1" x2="920.3" y2="2222.1" stroke="#000" stroke-width="2.6"/>
<text font-size="28" text-anchor="end" transform="translate(906.5,2090.5) scale(1,1.05)">2</text>
<text font-size="28" text-anchor="end" transform="translate(906.5,2234.7) scale(1,1.05)">1</text>
<text font-size="28" text-anchor="end" transform="translate(906.5,2379) scale(1,1.05)">0</text>
<path d="M944.2,2366.4V2203.1H984.3V2366.4" fill="#fff" stroke="#000" stroke-width="2.6"/>
<path d="M1011.5,2366.4V2214H1050.9V2366.4" fill="#808080" stroke="#000" stroke-width="2.6"/>
<path d="M1076.8,2366.4V2169.9H1117.1V2366.4" fill="#fff" stroke="#d90000" stroke-width="2.6"/>
<rect x="1142.9" y="2214" width="41.4" height="152.4" fill="#d90000"/>
<path d="M964.25,2164.4V2237.1M953.65,2164.4H974.85M953.65,2237.1H974.85" stroke="#000" stroke-width="2.6" fill="none" stroke-linecap="round"/>
<path d="M1031.2,2166.3V2257.5M1020.6,2166.3H1041.8M1020.6,2257.5H1041.8" stroke="#000" stroke-width="2.6" fill="none" stroke-linecap="round"/>
<path d="M1096.95,2111.9V2224.3M1086.35,2111.9H1107.55M1086.35,2224.3H1107.55" stroke="#d90000" stroke-width="2.6" fill="none" stroke-linecap="round"/>
<path d="M1163.9,2199.8V2228M1153.3,2199.8H1174.5M1153.3,2228H1174.5" stroke="#d90000" stroke-width="2.6" fill="none" stroke-linecap="round"/>
<circle cx="964.39" cy="2154.62" r="5.75" fill="#000" stroke="#000" stroke-width="0.8"/>
<circle cx="964.39" cy="2168.23" r="5.75" fill="#000" stroke="#000" stroke-width="0.8"/>
<circle cx="964.39" cy="2225.39" r="5.75" fill="#000" stroke="#000" stroke-width="0.8"/>
<circle cx="948.06" cy="2228.93" r="5.75" fill="#000" stroke="#000" stroke-width="0.8"/>
<circle cx="980.99" cy="2226.21" r="5.75" fill="#000" stroke="#000" stroke-width="0.8"/>
<path d="M1028.35,2101.77L1034.25,2112.75L1022.45,2112.75Z" fill="#000" stroke="#000" stroke-width="0.9" stroke-linejoin="miter"/>
<path d="M1031.34,2147.23L1037.24,2158.2L1025.44,2158.2Z" fill="#000" stroke="#000" stroke-width="0.9" stroke-linejoin="miter"/>
<path d="M1031.34,2171.73L1037.24,2182.7L1025.44,2182.7Z" fill="#000" stroke="#000" stroke-width="0.9" stroke-linejoin="miter"/>
<path d="M1031.34,2219.36L1037.24,2230.33L1025.44,2230.33Z" fill="#000" stroke="#000" stroke-width="0.9" stroke-linejoin="miter"/>
<path d="M1014.2,2252.02L1020.1,2262.99L1008.3,2262.99Z" fill="#000" stroke="#000" stroke-width="0.9" stroke-linejoin="miter"/>
<path d="M1047.4,2246.03L1053.3,2257.01L1041.5,2257.01Z" fill="#000" stroke="#000" stroke-width="0.9" stroke-linejoin="miter"/>
<circle cx="1097.21" cy="2109.17" r="5.75" fill="#d90000" stroke="#000" stroke-width="0.8"/>
<circle cx="1097.21" cy="2120.87" r="5.75" fill="#d90000" stroke="#000" stroke-width="0.8"/>
<circle cx="1097.21" cy="2161.7" r="5.75" fill="#d90000" stroke="#000" stroke-width="0.8"/>
<circle cx="1097.21" cy="2205.79" r="5.75" fill="#d90000" stroke="#000" stroke-width="0.8"/>
<circle cx="1097.21" cy="2242.54" r="5.75" fill="#d90000" stroke="#000" stroke-width="0.8"/>
<path d="M1163.9,2189.96L1169.8,2200.94L1158,2200.94Z" fill="#d90000" stroke="#000" stroke-width="0.9" stroke-linejoin="miter"/>
<path d="M1147.57,2204.39L1153.47,2215.36L1141.67,2215.36Z" fill="#d90000" stroke="#000" stroke-width="0.9" stroke-linejoin="miter"/>
<path d="M1180.23,2207.11L1186.13,2218.08L1174.33,2218.08Z" fill="#d90000" stroke="#000" stroke-width="0.9" stroke-linejoin="miter"/>
<path d="M1163.9,2209.83L1169.8,2220.81L1158,2220.81Z" fill="#d90000" stroke="#000" stroke-width="0.9" stroke-linejoin="miter"/>
<path d="M1163.9,2226.98L1169.8,2237.95L1158,2237.95Z" fill="#d90000" stroke="#000" stroke-width="0.9" stroke-linejoin="miter"/>
<line x1="964.7" y1="2096.9" x2="1021.5" y2="2096.9" stroke="#000" stroke-width="2.8"/>
<text font-size="28" text-anchor="middle" transform="translate(995.7,2087.7) scale(1,1.0)">n.s.</text>
<line x1="1102.7" y1="2096.9" x2="1159.8" y2="2096.9" stroke="#000" stroke-width="2.8"/>
<text font-size="28" text-anchor="middle" transform="translate(1134,2087.7) scale(1,1.0)">n.s.</text>
<line x1="962.5" y1="2061.5" x2="1097.8" y2="2061.5" stroke="#000" stroke-width="2.8"/>
<text font-size="28" text-anchor="middle" transform="translate(1035.2,2052.3) scale(1,1.0)">n.s.</text>
<line x1="962.5" y1="2028" x2="1162.5" y2="2028" stroke="#000" stroke-width="2.8"/>
<text font-size="28" text-anchor="middle" transform="translate(1070,2018.8) scale(1,1.0)">n.s.</text>
<text font-size="31.5" text-anchor="middle" transform="translate(1055,1982.1) scale(1,1.05)">M1 Macrophage</text>
<rect x="138.4" y="2418.4" width="29.4" height="28.8" fill="#fff" stroke="#000" stroke-width="3"/>
<rect x="138.4" y="2465.8" width="29.4" height="29.2" fill="#808080" stroke="#000" stroke-width="3"/>
<rect x="434.7" y="2417.6" width="29.4" height="29.2" fill="#fff" stroke="#d90000" stroke-width="3"/>
<rect x="433.2" y="2463.5" width="32.4" height="32.4" fill="#d90000"/>
<text font-size="31" text-anchor="start" transform="translate(191.5,2444.6) scale(1,1.05)">Control</text>
<text font-size="31" text-anchor="start" transform="translate(191.5,2492.5) scale(1,1.05)">Control + iNKT</text>
<text font-size="31" text-anchor="start" transform="translate(488.5,2444.6) scale(1,1.05)">CD4Cre</text>
<text font-size="33" text-anchor="start" style="font-family:'DejaVu Sans';font-weight:200;stroke-width:0.3px" transform="translate(609.8,2445.6) scale(1,1.05)">×</text>
<text font-size="31" text-anchor="start" transform="translate(645.9,2444.6) scale(1,1.05)">PRRcKO</text>
<text font-size="31" text-anchor="start" transform="translate(488.5,2492.5) scale(1,1.05)">CD4Cre</text>
<text font-size="33" text-anchor="start" style="font-family:'DejaVu Sans';font-weight:200;stroke-width:0.3px" transform="translate(609.8,2493.5) scale(1,1.05)">×</text>
<text font-size="31" text-anchor="start" transform="translate(645.9,2492.5) scale(1,1.05)">PRRcKO + iNKT</text>
<line x1="109.7" y1="463.3" x2="292.5" y2="463.3" stroke="#000" stroke-width="2.6"/>
<line x1="331.3" y1="462.5" x2="514.6" y2="462.5" stroke="#000" stroke-width="2.6"/>
<line x1="549.2" y1="462.5" x2="730.8" y2="462.5" stroke="#000" stroke-width="2.6"/>
<line x1="891.2" y1="461.9" x2="1074.4" y2="461.9" stroke="#000" stroke-width="2.6"/>
<line x1="1126" y1="461.9" x2="1310" y2="461.9" stroke="#000" stroke-width="2.6"/>
<line x1="1339.7" y1="461.9" x2="1522.8" y2="461.9" stroke="#000" stroke-width="2.6"/>
<line x1="173.6" y1="850.8" x2="607" y2="850.8" stroke="#000" stroke-width="2.6"/>
<line x1="1146.5" y1="868.8" x2="1330.1" y2="868.8" stroke="#000" stroke-width="2.6"/>
<line x1="130.7" y1="1342.1" x2="568.3" y2="1342.1" stroke="#000" stroke-width="2.6"/>
<line x1="1185.5" y1="1379.2" x2="1490.6" y2="1379.2" stroke="#000" stroke-width="2.6"/>
<line x1="99.8" y1="1899" x2="403" y2="1899" stroke="#000" stroke-width="2.6"/>
<line x1="467.6" y1="1899.3" x2="770.1" y2="1899.3" stroke="#000" stroke-width="2.6"/>
<line x1="938.8" y1="1900" x2="1242.3" y2="1900" stroke="#000" stroke-width="2.6"/>
<line x1="1318" y1="1901.1" x2="1618.7" y2="1901.1" stroke="#000" stroke-width="2.6"/>
<line x1="99.3" y1="2370.5" x2="399.6" y2="2370.5" stroke="#000" stroke-width="2.6"/>
<line x1="554.3" y1="2368" x2="855.1" y2="2368" stroke="#000" stroke-width="2.6"/>
<line x1="908" y1="2366.4" x2="1208" y2="2366.4" stroke="#000" stroke-width="2.6"/>
</svg></body></html>
